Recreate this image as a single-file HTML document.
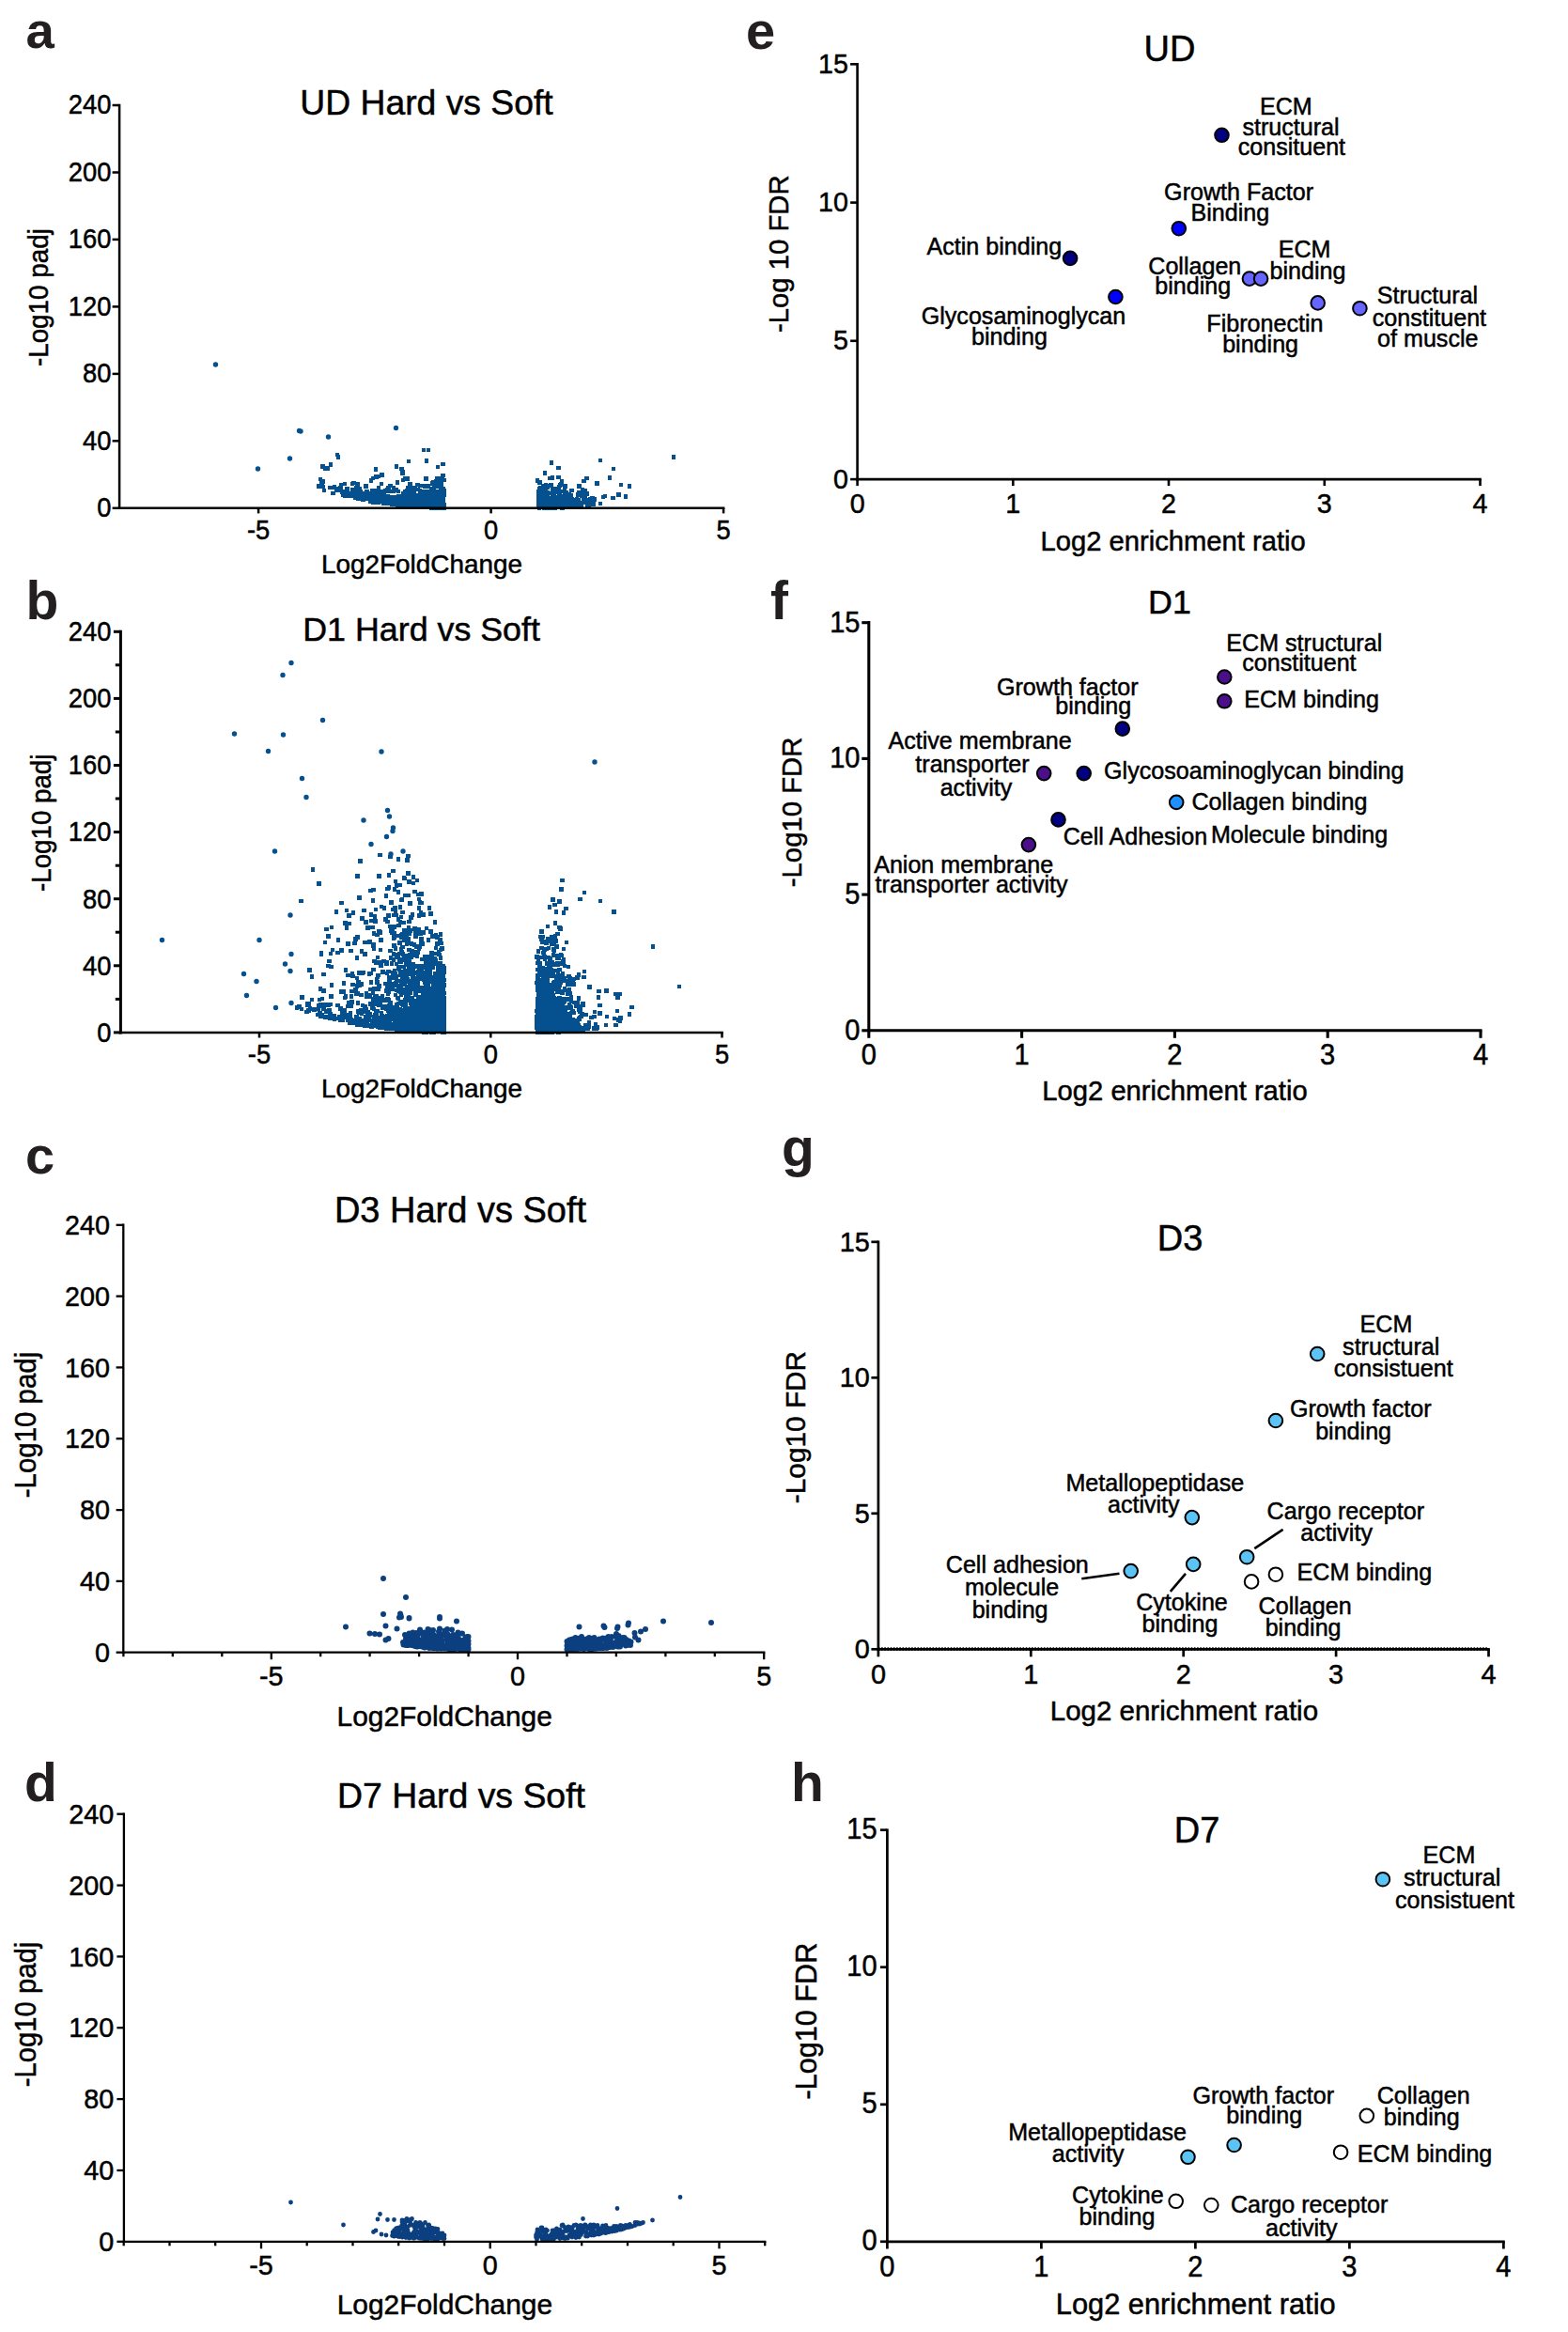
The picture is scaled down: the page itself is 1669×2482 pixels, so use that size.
<!DOCTYPE html>
<html lang="en"><head><meta charset="utf-8"><title>Figure</title>
<style>html,body{margin:0;padding:0;background:#fff}svg{display:block}text{font-family:'Liberation Sans', sans-serif}</style>
</head><body>
<svg width="1669" height="2482" viewBox="0 0 1669 2482">
<rect width="1669" height="2482" fill="#fff"/>
<g>
<path fill="none" stroke="#05508f" stroke-width="4.1" stroke-linecap="square" shape-rendering="crispEdges" d="M433.5 533h0M461.5 526.5h0M459.5 540.5h0M469 535h0M406.5 505.5h0M454.5 536h0M452.5 533h0M472 538h0M444.5 538.5h0M434.5 531h0M464.5 524h0M411 533h0M465.5 528.5h0M444 538.5h0M439 535h0M456 540h0M447.5 539.5h0M375 521h0M431.5 529h0M439.5 539h0M367.5 528h0M397.5 531h0M430 533.5h0M461 536h0M420 537h0M467 540h0M464.5 539.5h0M381 530.5h0M402.5 535h0M461 533h0M406 531h0M471.5 540.5h0M423 537.5h0M428.5 536.5h0M471 534h0M432 537h0M452 531h0M450.5 533.5h0M430 535.5h0M463 537.5h0M435 538h0M419.5 533h0M443 536h0M390 523.5h0M467.5 538h0M460.5 539.5h0M472 520h0M450 534.5h0M440.5 537h0M395 525.5h0M447 537h0M465 540h0M473 537.5h0M463 535h0M454 537.5h0M427 530h0M463 539.5h0M443.5 536h0M461.5 540h0M378.5 530h0M466.5 540.5h0M445 536.5h0M433 535h0M422 534h0M398 533.5h0M449.5 535.5h0M454 538h0M448 524h0M389 531h0M453 527h0M425.5 530.5h0M470.5 530.5h0M385 526.5h0M463.5 540.5h0M420.5 536.5h0M461.5 523.5h0M469 526h0M451 523.5h0M413.5 534h0M459 537.5h0M399.5 534.5h0M450 531.5h0M467 534.5h0M383 530.5h0M449 538h0M437.5 528h0M440.5 534h0M459.5 531.5h0M468.5 538.5h0M460 540h0M464.5 534.5h0M460 528h0M368.5 524h0M450.5 538.5h0M385.5 528h0M470.5 509.5h0M452 536.5h0M445 532.5h0M374.5 527.5h0M400.5 507.5h0M424 523h0M427 528h0M435.5 537h0M468.5 532h0M400 524h0M470 537.5h0M431 536.5h0M439 536.5h0M458 536h0M408.5 532.5h0M387.5 525h0M433 522.5h0M447 533h0M428 530.5h0M379 525.5h0M439.5 532.5h0M469 520.5h0M398.5 529.5h0M414 532h0M386.5 532h0M463 527h0M456.5 539h0M409.5 531.5h0M399.5 533.5h0M456.5 540h0M400.5 535h0M458 534h0M436 538h0M457.5 532.5h0M406 526h0M455 538h0M441 539h0M449 533h0M380.5 529.5h0M428 528h0M434.5 534h0M380 526h0M425.5 537h0M454.5 528.5h0M382.5 520.5h0M455 534h0M398.5 522h0M469 519.5h0M427 535.5h0M464 533h0M410 534h0M390.5 530h0M448.5 536.5h0M439 529.5h0M472 530.5h0M466.5 530.5h0M471 529h0M421.5 534h0M382.5 525h0M450.5 517h0M403.5 527h0M472.5 526.5h0M434 509.5h0M440 531.5h0M471 536h0M470 516h0M421.5 531.5h0M409.5 530h0M473 540.5h0M349 498.5h0M403.5 531h0M378.5 523h0M464 512h0M463 531h0M469 540h0M438 533h0M427.5 536.5h0M452.5 535h0M417.5 537h0M390 527h0M373 526h0M450.5 540h0M414 523h0M414.5 529h0M426 530h0M468 513.5h0M406.5 530h0M428.5 528h0M397 534.5h0M365 527h0M468.5 533.5h0M473 538.5h0M462 518.5h0M422 533.5h0M459 534h0M470.5 534.5h0M463 525h0M414.5 536h0M432 539h0M417.5 529.5h0M421.5 529.5h0M396.5 522.5h0M362.5 521.5h0M436.5 539h0M380.5 515.5h0M453.5 523h0M384 523.5h0M442 519h0M462.5 524h0M454.5 530.5h0M413 535.5h0M406.5 523h0M417 534h0M440.5 533h0M404 532h0M435 535h0M453.5 538h0M439.5 527.5h0M399.5 531h0M406.5 533h0M440.5 523.5h0M453.5 540h0M370 527h0M418.5 534.5h0M458.5 523h0M403 533.5h0M394.5 531h0M452.5 518h0M412.5 528.5h0M458 527.5h0M472 534h0M356 518.5h0M454.5 527h0M387.5 530h0M464.5 532.5h0M394.5 534h0M404 533.5h0M458.5 527.5h0M446.5 530h0M428.5 530h0M407.5 525.5h0M373.5 525.5h0M364.5 523.5h0M455 525h0M396.5 529.5h0M445 521h0M448 532h0M428 533h0M435.5 526.5h0M442 530h0M468 530h0M463.5 528h0M445 535h0M358 520.5h0M457 531h0M431 538.5h0M417.5 531h0M400.5 532h0M471.5 506h0M386 532h0M354.5 525h0M351.5 519h0M447 517h0M429 511h0M384 529h0M464.5 536.5h0M424.5 528h0M339 517.5h0M396.5 527h0M466 497h0M421.5 521.5h0M430.5 534.5h0M415 534h0M436 535h0M369.5 520.5h0M406 515h0M411 530.5h0M423 513.5h0M403 519.5h0M403 522h0M447 522.5h0M418.5 523h0M432.5 531h0M375 515h0M460.5 536.5h0M453.5 517.5h0M367 515h0M426.5 538.5h0M409 527h0M447.5 527.5h0M342.5 514.5h0M431 523.5h0M436.5 515h0M445 532h0M394 527.5h0M466 523.5h0M454 490.5h0M388 527h0M470 523.5h0M473 522h0M425 534h0M399 526.5h0M375 528h0M385 525.5h0M403 529h0M408 536h0M460 526h0M413.5 519.5h0M390.5 523.5h0M376.5 514h0M405 529h0M345 522h0M461.5 528.5h0M465.5 517.5h0M472.5 525h0M358 522h0M431 533.5h0M362.5 519h0M344 512.5h0M352 494.5h0M377.5 521.5h0M370 527.5h0M436.5 521h0M435 491h0M395 511.5h0M376.5 524h0M434.5 519h0M403 507h0M415.5 517h0M363 516h0M444.5 516h0M428.5 502.5h0M439.5 519.5h0M460 514.5h0M471.5 494h0M341 510h0M421 533.5h0M462 521.5h0M455.5 517.5h0M412.5 521h0M427.5 499h0M422 496.5h0M410 522.5h0M359 484h0M444 527.5h0M409 535.5h0M360 486.5h0M397 509h0M393 531h0M343.5 496.5h0M379.5 519.5h0M343.5 518h0M400.5 527h0M436 525.5h0M417.5 523h0M431.5 509.5h0M402 525.5h0M346 498.5h0M414.5 530h0M389.5 517.5h0M400 499.5h0M429 525.5h0M473 511h0M453.5 509.5h0M465.5 509h0M465 515.5h0M419 519h0M456 479h0M380.5 523h0M431.5 526h0M428.5 504h0M422 531h0M450.5 527.5h0M459 520.5h0M461 513.5h0M408.5 524h0M451 479h0M469.5 512h0M582.5 538h0M582 528h0M594 520.5h0M586.5 531h0M575.5 540h0M573 537.5h0M604 536.5h0M588 540.5h0M573 540h0M587 536h0M584 539h0M606 536h0M595.5 539h0M588 536.5h0M620 521h0M574 540.5h0M592 534.5h0M581 536h0M578 530h0M583.5 535.5h0M584 540.5h0M598 532h0M575 536.5h0M577.5 540h0M600.5 533.5h0M597.5 536.5h0M606.5 539h0M575 536h0M613 537h0M577 536.5h0M623.5 535h0M591 523.5h0M596 529h0M582.5 526.5h0M573 526h0M590.5 533h0M594.5 529.5h0M602 539h0M622.5 522h0M589 524h0M577 539h0M601.5 535h0M584.5 537.5h0M623 525h0M587.5 538.5h0M593 534h0M595.5 524.5h0M573 535.5h0M577.5 535.5h0M580.5 537h0M579 539.5h0M589.5 528h0M626.5 537.5h0M589 540.5h0M577.5 530.5h0M580 539.5h0M610.5 535h0M572 511.5h0M608.5 522h0M581 540.5h0M605.5 539h0M589.5 540h0M595 531.5h0M596.5 538.5h0M582 537.5h0M609 531.5h0M608 532.5h0M611 533h0M600.5 538h0M623 530.5h0M599.5 523h0M593.5 531h0M590.5 539h0M574 529h0M614.5 536h0M611.5 537.5h0M589 535h0M579 535.5h0M592.5 537h0M619.5 528h0M574 533.5h0M596.5 533.5h0M601 521h0M578.5 525.5h0M625 535h0M585 540.5h0M587 537.5h0M581.5 533.5h0M586.5 516h0M615.5 526.5h0M573.5 531h0M631.5 535.5h0M612.5 539.5h0M587.5 533h0M631.5 537h0M602 540h0M598.5 531h0M575.5 532.5h0M590 537.5h0M575 527h0M582.5 524.5h0M575.5 530.5h0M615 536.5h0M598.5 536.5h0M573 540h0M603 532.5h0M579.5 540.5h0M589.5 531h0M615.5 532h0M594.5 522.5h0M584.5 535h0M594.5 498h0M631.5 532h0M606 533h0M588 508.5h0M578.5 531.5h0M581 529.5h0M575 528.5h0M625 537.5h0M609 538h0M598 512h0M574.5 520.5h0M588.5 528.5h0M630.5 530h0M605 528.5h0M579 536.5h0M609.5 535h0M616 538.5h0M617 538.5h0M590.5 540.5h0M622.5 527.5h0M602.5 536.5h0M597.5 515.5h0M595 518h0M585 531.5h0M618.5 525h0M599.5 536h0M598.5 540.5h0M582 527h0M607.5 527h0M584.5 517h0M575.5 525.5h0M603 538.5h0M593 540h0M616.5 536h0M589 533.5h0M590 530.5h0M573.5 527.5h0M576.5 533h0M611.5 532h0M594.5 537h0M614 531.5h0M578 517h0M629 533h0M600.5 530h0M581 525h0M619 537.5h0M579.5 527.5h0M580 533h0M574.5 513.5h0M592.5 539.5h0M621 523.5h0M621.5 512h0M584 530.5h0M616.5 524h0M624.5 532.5h0M606 526.5h0M585.5 525h0M600.5 528.5h0M588.5 520.5h0M596 516.5h0M607 536.5h0M573.5 523.5h0M625 525.5h0M626 538.5h0M581.5 531.5h0M576 526h0M580.5 519.5h0M621.5 531h0M577.5 522.5h0M628.5 531.5h0M581 516.5h0M642 529h0M601.5 517.5h0M644 528h0M582.5 518.5h0M632.5 531.5h0M639 536h0M624.5 509h0M575 519.5h0M621.5 533.5h0M619 535h0M592 520h0M585.5 509h0M574.5 522.5h0M601 523.5h0M616.5 517.5h0M580 503.5h0M597 535h0M577.5 519.5h0M610 538.5h0M579 518.5h0M594.5 508h0M602.5 524h0M652.5 530h0M595 536h0M635.5 514.5h0M612 534.5h0M717 486.5h0M639 490h0M587 492.5h0M653 499h0M670 517.5h0M661 516h0M649 508.5h0M666 528.5h0M658.5 526.5h0"/>
<path fill="none" stroke="#05508f" stroke-width="5.4" stroke-linecap="round" d="M229.5 388h0M318.5 458.5h0M320 459h0M349.5 465h0M421.5 455.5h0M308.5 488h0M274.5 499h0"/>
<line x1="127.1" y1="110.8" x2="127.1" y2="542" stroke="#000" stroke-width="2.5"/>
<line x1="125.8" y1="540.8" x2="771.4" y2="540.8" stroke="#000" stroke-width="2.5"/>
<line x1="119.6" y1="540.8" x2="127.1" y2="540.8" stroke="#000" stroke-width="2.5"/>
<text font-size="28.8" text-anchor="end" stroke="#000" stroke-width="0.5" transform="translate(118.4 550) scale(0.95 1)">0</text>
<line x1="119.6" y1="469.3" x2="127.1" y2="469.3" stroke="#000" stroke-width="2.5"/>
<text font-size="28.8" text-anchor="end" stroke="#000" stroke-width="0.5" transform="translate(118.4 478.5) scale(0.95 1)">40</text>
<line x1="119.6" y1="397.9" x2="127.1" y2="397.9" stroke="#000" stroke-width="2.5"/>
<text font-size="28.8" text-anchor="end" stroke="#000" stroke-width="0.5" transform="translate(118.4 407.1) scale(0.95 1)">80</text>
<line x1="119.6" y1="326.4" x2="127.1" y2="326.4" stroke="#000" stroke-width="2.5"/>
<text font-size="28.8" text-anchor="end" stroke="#000" stroke-width="0.5" transform="translate(118.4 335.6) scale(0.95 1)">120</text>
<line x1="119.6" y1="254.9" x2="127.1" y2="254.9" stroke="#000" stroke-width="2.5"/>
<text font-size="28.8" text-anchor="end" stroke="#000" stroke-width="0.5" transform="translate(118.4 264.1) scale(0.95 1)">160</text>
<line x1="119.6" y1="183.5" x2="127.1" y2="183.5" stroke="#000" stroke-width="2.5"/>
<text font-size="28.8" text-anchor="end" stroke="#000" stroke-width="0.5" transform="translate(118.4 192.7) scale(0.95 1)">200</text>
<line x1="119.6" y1="112" x2="127.1" y2="112" stroke="#000" stroke-width="2.5"/>
<text font-size="28.8" text-anchor="end" stroke="#000" stroke-width="0.5" transform="translate(118.4 121.2) scale(0.95 1)">240</text>
<line x1="275.1" y1="540.8" x2="275.1" y2="546.4" stroke="#000" stroke-width="2.5"/>
<text font-size="28.8" text-anchor="middle" stroke="#000" stroke-width="0.5" transform="translate(275.1 573.6) scale(0.95 1)">-5</text>
<line x1="522.6" y1="540.8" x2="522.6" y2="546.4" stroke="#000" stroke-width="2.5"/>
<text font-size="28.8" text-anchor="middle" stroke="#000" stroke-width="0.5" transform="translate(522.6 573.6) scale(0.95 1)">0</text>
<line x1="770.1" y1="540.8" x2="770.1" y2="546.4" stroke="#000" stroke-width="2.5"/>
<text font-size="28.8" text-anchor="middle" stroke="#000" stroke-width="0.5" transform="translate(770.1 573.6) scale(0.95 1)">5</text>
<text x="454" y="121.5" font-size="37.3" text-anchor="middle" stroke="#000" stroke-width="0.5">UD Hard vs Soft</text>
<text x="449" y="609.6" font-size="27.9" text-anchor="middle" stroke="#000" stroke-width="0.5">Log2FoldChange</text>
<text font-size="28.7" text-anchor="middle" stroke="#000" stroke-width="0.5" transform="translate(51 316.6) rotate(-90) scale(0.97 1)">-Log10 padj</text>
<text x="27.5" y="51" font-size="54.5" font-weight="bold" fill="#231f20">a</text>
</g>
<g>
<path fill="none" stroke="#05508f" stroke-width="4.1" stroke-linecap="square" shape-rendering="crispEdges" d="M470.5 1009.5h0M468.5 1090h0M463 1058.5h0M459 1090.5h0M449 1084h0M446.5 1077h0M468 1095h0M469.5 1078h0M463 1090.5h0M461.5 1095.5h0M436.5 1093.5h0M466 1044.5h0M455 1093.5h0M452 1071.5h0M464.5 1093.5h0M418 1072h0M440.5 1089h0M417.5 1080.5h0M471.5 1097.5h0M470 1085h0M471.5 1098.5h0M437 1064h0M443 1093.5h0M457.5 1098h0M451.5 1086.5h0M454 1090h0M450.5 1093.5h0M462 1064.5h0M463 1084h0M469 1097.5h0M465.5 1070.5h0M445.5 1090h0M456.5 1096.5h0M435.5 1093h0M459 1074h0M465.5 1088h0M452 1081h0M403.5 1049.5h0M454.5 1080h0M452.5 1079h0M467 1084.5h0M461.5 1087h0M434 1097.5h0M464 1092.5h0M471 1083h0M449.5 1094h0M468 1086.5h0M468 1065h0M457 1094h0M455.5 1091.5h0M420.5 1078.5h0M465.5 1098h0M438.5 1093.5h0M466 1094h0M443 1079h0M467.5 1090h0M466.5 1079.5h0M471 1090.5h0M457.5 1082h0M461 1076h0M472 1089h0M444.5 1073h0M465 1087h0M415.5 1090.5h0M448 1075.5h0M460.5 1073h0M449.5 1087.5h0M370.5 1038h0M427 1092.5h0M461.5 1093h0M458.5 1094.5h0M427 1066.5h0M424.5 1050.5h0M471.5 1054h0M470.5 1088h0M465.5 1075h0M418 1075.5h0M472.5 1091h0M464 1081.5h0M473 1087.5h0M460.5 1092h0M415.5 1067.5h0M460.5 1077.5h0M465 1098h0M471.5 1094h0M450.5 1091h0M458.5 1089h0M473 1093h0M456 1095.5h0M457 1086h0M453 1093.5h0M442 1096h0M416 1092.5h0M460.5 1097.5h0M466.5 1089.5h0M472.5 1096.5h0M470.5 1078h0M367.5 1080.5h0M463.5 1069.5h0M445.5 1080.5h0M451.5 1075h0M453 1086.5h0M446 1090.5h0M418.5 1074.5h0M472.5 1084h0M467.5 1016h0M468 1064.5h0M464 1066h0M446.5 1093h0M468 1081h0M455 1086.5h0M446.5 1088h0M452.5 1040h0M384 1075.5h0M466 1066.5h0M435.5 1035h0M432 1097h0M445.5 1095.5h0M453 1094h0M473 1095.5h0M451.5 1095.5h0M464 1088.5h0M445.5 1070.5h0M462.5 1055.5h0M440 1087h0M428.5 1087.5h0M467.5 1070h0M440.5 1065.5h0M452.5 1098h0M451 1084h0M436 1083h0M430.5 1078h0M467 1096h0M464.5 1061h0M456.5 1084.5h0M404 1063h0M430.5 1056.5h0M464.5 1083h0M435.5 1075h0M419.5 1081.5h0M469 1088h0M468 1098h0M456 1098h0M400 1088.5h0M445 1093.5h0M452.5 1077.5h0M460 1079h0M463.5 1088h0M470.5 1068h0M460 1087.5h0M446.5 1054h0M473 1048.5h0M415 1086h0M427 1010.5h0M470.5 1095h0M417.5 1092.5h0M441 1078.5h0M440 1081h0M462 1096.5h0M469.5 1082h0M433 995.5h0M436.5 1097h0M456 1051.5h0M429 1090.5h0M459 1079.5h0M472 1065h0M459.5 1097.5h0M405 1069h0M468.5 1063.5h0M466 1081h0M455 1063.5h0M472.5 1071.5h0M467 1098h0M468 1056.5h0M469.5 1073.5h0M429.5 1053h0M461 1057.5h0M436.5 1055.5h0M444 1048.5h0M412.5 1093.5h0M439.5 1086.5h0M454.5 1074.5h0M455 1089.5h0M449 1098h0M469 1085h0M466 1085.5h0M433 1076.5h0M448 1063.5h0M439 1062h0M467.5 1087.5h0M472.5 1074.5h0M463.5 1096h0M449 1063.5h0M432 1083h0M465 1094.5h0M471.5 1088.5h0M459 1060.5h0M447 1097h0M469.5 1092.5h0M447.5 1082.5h0M460 1059h0M464.5 1077h0M413 1076h0M462.5 1053.5h0M457 1063.5h0M436.5 1081h0M468.5 1075.5h0M441 1097h0M462 1089h0M456.5 1092.5h0M463 1078h0M429 1070h0M413 1084.5h0M461 1029.5h0M430.5 1083.5h0M458 1083h0M449 1083h0M451 1068h0M468.5 1069.5h0M424.5 1055h0M461.5 1081.5h0M472 1072.5h0M426 1079h0M470 1076h0M380 1049.5h0M468.5 1000h0M437.5 1052.5h0M461 1085.5h0M455 1047.5h0M425.5 1095.5h0M435.5 1076.5h0M454 1098.5h0M440 1084h0M438.5 1029h0M444.5 1084.5h0M442 1092h0M429.5 1096.5h0M458.5 1062.5h0M453 1047.5h0M466.5 1083h0M454 1072h0M434.5 1095h0M420.5 1091.5h0M437.5 1086.5h0M454 1069.5h0M460 1070.5h0M451.5 1097.5h0M430.5 1085.5h0M463 1075h0M459 1080.5h0M471 1056h0M459 1070.5h0M467.5 1049h0M436 1091h0M471.5 1033.5h0M473 1078.5h0M442 1066h0M468 1081h0M457.5 1068h0M465.5 1090h0M418.5 1084.5h0M472.5 1098.5h0M453 1068.5h0M431 1048h0M432 1097h0M471 1079h0M442 1083.5h0M467 1074.5h0M472.5 1083.5h0M471 1052.5h0M444.5 1086h0M400 1064.5h0M459.5 1092.5h0M409.5 1090.5h0M443 1094.5h0M450 1072h0M441 1094h0M414 1083.5h0M445 1062.5h0M402 1092h0M472 1053h0M437 1084.5h0M457.5 1057h0M459.5 1085.5h0M439 1091h0M432.5 1090.5h0M463.5 1072h0M446 1080h0M431 1086.5h0M402.5 1093h0M449 1090.5h0M452.5 1085h0M469.5 1066.5h0M470.5 1051h0M460 1065h0M428.5 1067h0M458 1067.5h0M470.5 1068h0M410 1064.5h0M452.5 1051h0M425.5 1074h0M406 1087h0M412.5 1063h0M431.5 1090.5h0M453 1067.5h0M458.5 1072h0M424 1077h0M456 1024h0M441 1051h0M410 1089.5h0M454 1082h0M460.5 1067.5h0M472 1081h0M427 1089h0M449.5 1088.5h0M422 1096h0M469.5 1004h0M430.5 1081h0M407 1094h0M457 1078h0M390 1074h0M423 1090h0M442 1086.5h0M421 1080h0M466 1054h0M462.5 1063h0M442.5 1084.5h0M463 1042.5h0M410 1086h0M419 1093.5h0M454 1071h0M447.5 1094.5h0M459 1098.5h0M449.5 1079.5h0M452.5 1074h0M394 1091h0M421 1085.5h0M457.5 1036.5h0M440 1085.5h0M427.5 1078h0M424 1091.5h0M451 1088h0M464 1067h0M462.5 1015h0M441 1068h0M452.5 1083h0M458 1040.5h0M457 1092h0M454.5 1077.5h0M451.5 1070.5h0M466.5 1073h0M456.5 1080h0M462 1098.5h0M469 1045.5h0M470 1050h0M444.5 1047h0M465 1069.5h0M471 1041.5h0M472.5 1057h0M463 1020.5h0M438.5 1097.5h0M432 1088h0M442.5 1058.5h0M467 1066.5h0M450.5 1070h0M463.5 1022.5h0M435.5 1086h0M467 1070.5h0M440.5 1082.5h0M460 1054h0M462.5 1041h0M464 1079.5h0M440 1088.5h0M471 1071.5h0M430 1079h0M470 1038.5h0M383 1084.5h0M439.5 1049.5h0M462.5 1084.5h0M443.5 1089.5h0M430.5 1088.5h0M453 1091h0M434.5 1073.5h0M465.5 1053h0M446 1083.5h0M455.5 1066.5h0M468.5 1059h0M467.5 1077h0M458 1072.5h0M462 1073.5h0M462.5 1056h0M448 1081.5h0M448.5 1068.5h0M455 1085.5h0M433 1084h0M443 1081h0M467 1097.5h0M419 1015h0M440 1032.5h0M449.5 1078h0M464 1061h0M450.5 1077h0M453.5 1061h0M384 1088.5h0M461 1098.5h0M450 1071.5h0M443.5 1090h0M440.5 1091.5h0M440 1074.5h0M446.5 1073.5h0M429.5 1077h0M414 1070h0M404.5 1091.5h0M445.5 1054.5h0M422.5 1077h0M425.5 1089.5h0M421.5 1075.5h0M446 1069h0M452 1082h0M332 1064h0M453 1098.5h0M457 1034h0M408.5 1083.5h0M435.5 1089h0M471 1050h0M467.5 1035.5h0M451.5 1061.5h0M401.5 1076h0M449 1093.5h0M437 1079.5h0M465 1044h0M443 1052h0M456 1057.5h0M425.5 1087h0M413.5 1094.5h0M421 1059h0M440 1096h0M428 1086h0M407 1060h0M450.5 1066h0M429 1094.5h0M434.5 1079.5h0M423.5 1076h0M447 1090h0M458.5 1055h0M399 1066h0M444.5 1097.5h0M456.5 1056h0M397 1069h0M424 1063h0M414.5 1044.5h0M411 1054.5h0M458.5 1076h0M341.5 1082h0M406.5 1083.5h0M453 1057h0M468.5 1071.5h0M428 1085.5h0M464 1050.5h0M400.5 1060h0M432 1075.5h0M457.5 1058.5h0M433 1054.5h0M422 1074h0M462 1082.5h0M398.5 1083h0M449.5 1039h0M457 1044h0M426 1066.5h0M431 1092.5h0M433.5 1094.5h0M449.5 1072h0M433.5 1081.5h0M437 1089h0M399 1080.5h0M427.5 1095.5h0M443 1068h0M409 1082h0M406 1078h0M438 1074h0M409.5 1071h0M457.5 1075.5h0M473 1030h0M420 1041h0M388.5 1015.5h0M424.5 1068h0M472.5 1034.5h0M465 1079h0M351.5 1084h0M449 1098h0M460 1016.5h0M458.5 1069h0M453.5 1035h0M414 1077h0M469.5 1052.5h0M472 1044.5h0M439 1065h0M386 1086h0M411.5 1024h0M456 1052.5h0M471.5 1039h0M374.5 1055h0M380 1086h0M459.5 1083h0M432.5 1094h0M447 1067.5h0M441 1048.5h0M470 1077h0M467.5 1046.5h0M452 1065h0M412 1081.5h0M422 1091.5h0M429.5 1089.5h0M471 1031h0M429 1094h0M420 1089h0M414 1086.5h0M446.5 1098h0M451.5 1056h0M442.5 1070.5h0M422.5 1069.5h0M421 1090h0M387 1076.5h0M460 1019h0M457 1064.5h0M436.5 1094h0M430.5 1094.5h0M405.5 1083.5h0M432 1060h0M446.5 1029.5h0M431 1064h0M441.5 1072h0M444 1065h0M431.5 1071h0M427 1058.5h0M425.5 1093.5h0M470 1062.5h0M473 1062.5h0M457 1062h0M388.5 1092h0M400 1076h0M363.5 1011.5h0M454.5 1072.5h0M438.5 1072.5h0M441 1041h0M379.5 1087h0M403.5 1089h0M435 1057.5h0M398 1009.5h0M422.5 1079h0M366.5 1076.5h0M472.5 1076h0M457 1068h0M444 1077h0M437.5 1052h0M384.5 1059h0M423.5 1083h0M420 1076h0M409.5 1073h0M433.5 1086.5h0M458.5 1066h0M428.5 1069h0M473 1074h0M412 1090h0M440.5 1070.5h0M455.5 1083.5h0M415 1081h0M450 1061.5h0M466 1073.5h0M423.5 1062h0M429.5 1029h0M434.5 1044h0M454 1058h0M393 1085h0M393.5 1061h0M429 1081h0M436 1016h0M448.5 1034.5h0M411.5 1095h0M432 1072.5h0M445 1075h0M435 1033h0M431 1054h0M471 1048h0M413 1057.5h0M457.5 1089h0M465 1049.5h0M414.5 1047h0M461.5 1047.5h0M419 1084h0M439.5 1067h0M402.5 1091.5h0M421.5 1094.5h0M426 1044h0M469.5 1037h0M427 1091.5h0M416.5 1095h0M437 1057h0M457 1071.5h0M461.5 1051h0M456 1038.5h0M401 1079.5h0M436 1085h0M432 1068h0M446.5 1062h0M467.5 1059.5h0M374.5 1066.5h0M434.5 1080.5h0M456 1041.5h0M448 1075h0M469 1046h0M416.5 1090h0M384 1091h0M463.5 1039h0M451.5 1042.5h0M407.5 1073h0M374 1060.5h0M434 1033.5h0M460 1053.5h0M339.5 1070.5h0M450 1081.5h0M449.5 1028h0M456 1048h0M452.5 1053h0M388.5 1071.5h0M466.5 1062h0M398 1091h0M450.5 1058.5h0M395.5 1092.5h0M437.5 1036.5h0M403 1066h0M425 1085.5h0M471.5 1045.5h0M429.5 1035.5h0M469 994.5h0M426 1086.5h0M419.5 993.5h0M397 1090.5h0M453 1062h0M446.5 1084.5h0M468.5 1027h0M459 1058.5h0M410 1082h0M468 1040.5h0M382.5 1077.5h0M443 1052h0M465.5 997.5h0M405.5 1028h0M427 1080.5h0M451.5 1080h0M442 1046h0M466 1033.5h0M417 1084h0M466 1025.5h0M461 1069.5h0M393.5 1080.5h0M415 1094h0M453.5 1025h0M400.5 1069h0M433 1060h0M390 1085h0M469 1048.5h0M436.5 1091.5h0M445 1045.5h0M451 1062.5h0M359.5 1084h0M415.5 1073.5h0M448 1066.5h0M467.5 1055.5h0M455.5 1061.5h0M469 1011h0M400.5 1083.5h0M438 1072h0M471 1058.5h0M435 1062h0M442.5 1055.5h0M423 1094h0M394 1079.5h0M370.5 1004.5h0M472.5 1067.5h0M436.5 1076.5h0M451 1081.5h0M419.5 1073.5h0M411.5 1088h0M437 1068h0M459.5 1025h0M472 1080.5h0M472 1069h0M468 1053.5h0M424 1087h0M420 1086h0M467.5 1064h0M431.5 1067h0M468 1041h0M472 1060.5h0M414.5 1049.5h0M469 1019.5h0M446.5 1088.5h0M439 1076h0M439.5 1082h0M426.5 1083h0M365.5 1055.5h0M418 1051h0M426 1055.5h0M441.5 1077.5h0M422.5 1019h0M472.5 1043h0M446 966.5h0M449.5 1021h0M466.5 1029.5h0M350.5 1023h0M446 957h0M432 1079h0M438.5 1074h0M464 1009h0M448.5 1054h0M465.5 1004.5h0M468 1043h0M471.5 1028.5h0M368.5 1080.5h0M340 1064h0M444 1017.5h0M387.5 1088.5h0M467 1013.5h0M414 1089.5h0M344.5 1073.5h0M438.5 1062.5h0M444.5 1068h0M386.5 1075h0M458.5 991.5h0M414.5 1052h0M468 1038.5h0M459 1027h0M463.5 1036.5h0M429 1075.5h0M349.5 1069.5h0M437.5 1026.5h0M425.5 1049.5h0M435.5 1011h0M375 1036h0M454.5 1054h0M414 1064.5h0M398 1082h0M432 1059h0M458.5 1040.5h0M457 966.5h0M433.5 1050.5h0M421.5 1082.5h0M457 1052h0M405.5 1064.5h0M438.5 1046h0M433.5 1042.5h0M455 1035h0M396.5 1087h0M426 1077h0M465.5 1042h0M351.5 1084h0M429.5 1045h0M406.5 1081h0M433 1041h0M367 1075h0M464 995.5h0M389 1082h0M388.5 1003h0M468.5 1031h0M376.5 1086.5h0M407 1091h0M380 1041h0M445 1070h0M398 1065h0M460.5 1063h0M414.5 1083h0M430.5 990.5h0M420.5 1016h0M452.5 1055.5h0M467.5 1051h0M428 1037h0M452 1036h0M447 1007.5h0M469 1025h0M456.5 1022.5h0M347 1076.5h0M432.5 997h0M460.5 996.5h0M458.5 1023h0M424.5 1080h0M465.5 1059h0M432.5 1074.5h0M415.5 986h0M390.5 1060.5h0M334.5 1074.5h0M446 1061.5h0M439.5 1017h0M381.5 1045.5h0M433.5 1065h0M453.5 1019h0M402 1039.5h0M406.5 1088.5h0M439 1071.5h0M459.5 1014h0M390 1090.5h0M414 1056h0M457 1038h0M416.5 1077.5h0M400 1079h0M411 1073.5h0M404.5 1066.5h0M424 1083.5h0M451 1030h0M378.5 1053h0M422 1046.5h0M390 1057h0M433 1005h0M458.5 1044.5h0M440 1030h0M373.5 1012h0M422 1054h0M456 1029h0M389.5 1083h0M397.5 1032h0M422 1077.5h0M457 1026h0M368 1060.5h0M448.5 961h0M461 1030h0M454 988h0M419.5 1094h0M450 1051h0M445.5 989h0M465 1057.5h0M445.5 1034.5h0M444 991h0M456.5 1019.5h0M444 1028.5h0M435.5 938.5h0M405.5 1024.5h0M455 1029h0M397 1063.5h0M353 987h0M395.5 980h0M366 1046.5h0M368 1032.5h0M367.5 1083h0M372 983h0M403 1069.5h0M344.5 1054.5h0M373 1078h0M381 1057.5h0M341 1052.5h0M370.5 1071h0M341.5 1069h0M341.5 1071h0M371.5 974.5h0M391.5 1077.5h0M395 1086h0M403 1062.5h0M328.5 1075.5h0M384.5 1047.5h0M359.5 1070h0M340.5 1078h0M405 1093.5h0M329.5 1032.5h0M352 1015h0M367 1062h0M399.5 1060h0M397 1056.5h0M373.5 1085h0M373.5 1070.5h0M358.5 1084h0M349.5 996.5h0M363 1055.5h0M410.5 978.5h0M342 1014.5h0M395 973.5h0M349.5 1028h0M338 1080h0M350.5 1075h0M352.5 1029h0M346 1003h0M378.5 999.5h0M394 1059h0M385 1078.5h0M367.5 982.5h0M371.5 1067.5h0M387 1091h0M400.5 1080.5h0M386.5 1035h0M350.5 1076h0M344.5 1037h0M396.5 987h0M406 965h0M391.5 987.5h0M393 1036.5h0M394 1068.5h0M343 1063h0M354 1011h0M399 975.5h0M327.5 1068h0M372.5 1080.5h0M396.5 1072.5h0M380 1019.5h0M379 1088.5h0M411 953.5h0M342 1016h0M403 1088h0M353 1048.5h0M381 1067.5h0M359.5 1014h0M398 1074h0M351.5 1069h0M379.5 1057.5h0M364.5 1078.5h0M321.5 1061.5h0M360 1000.5h0M382 1035.5h0M375.5 1048h0M427 1029h0M364.5 1086h0M352.5 1060.5h0M400.5 1024.5h0M398 1005.5h0M445 1041h0M389.5 981.5h0M386 1070h0M394.5 1053h0M332 1039.5h0M344.5 1069.5h0M413 1074h0M369 969h0M393.5 1092h0M451.5 1098.5h0M397 1089h0M361.5 1082.5h0M372 1088.5h0M423 1095h0M326.5 1077h0M339 1073.5h0M409 1092h0M362.5 1073.5h0M355.5 1081h0M376 1088.5h0M373 1088.5h0M330 1073.5h0M343 1080h0M365.5 1081.5h0M420 1092h0M398.5 1092h0M390.5 1088h0M328.5 1068.5h0M402 1084h0M377.5 1088.5h0M420.5 1092.5h0M346.5 1082.5h0M316 1072.5h0M370.5 1085.5h0M362 1086h0M381.5 1076.5h0M327 1069.5h0M404.5 1094h0M352.5 1084h0M399 1085.5h0M425.5 1096.5h0M321 1074h0M318.5 1071.5h0M356 1084.5h0M379.5 1082h0M351.5 1079.5h0M380.5 1090.5h0M419 1035.5h0M412 1036h0M434 1050.5h0M456 1000.5h0M426.5 1024h0M419.5 974h0M416.5 990.5h0M441.5 988.5h0M394.5 948h0M419.5 1006.5h0M397 1005h0M454.5 1033.5h0M380.5 997.5h0M423.5 1018h0M430 1039h0M464.5 1026h0M419 1047.5h0M447.5 993.5h0M415.5 1012h0M422 1044.5h0M412.5 946h0M437 1046.5h0M428.5 971h0M448.5 951.5h0M455.5 1018.5h0M385.5 1035.5h0M431 993.5h0M435.5 993.5h0M419 1021.5h0M422.5 1049h0M446 1028h0M425.5 1003.5h0M427 1035.5h0M439 1034.5h0M435.5 1045h0M426 1034.5h0M430.5 935h0M420.5 966.5h0M412 1051.5h0M405 1011h0M438.5 1012.5h0M424.5 996h0M425 1015h0M443.5 1007.5h0M433 1022h0M432 990.5h0M418.5 927h0M440 940h0M466 1036h0M438 1035.5h0M435.5 1052.5h0M435 1031.5h0M412.5 981h0M450.5 992.5h0M420 1033.5h0M453.5 1022h0M434.5 911h0M431.5 1038h0M417.5 1040.5h0M441.5 949h0M377.5 1004h0M435 953h0M426.5 1038h0M425 1054h0M430 934h0M441 1042.5h0M437.5 976.5h0M434.5 999.5h0M404.5 992.5h0M459 1028.5h0M439.5 1026h0M447 1051h0M414 1040.5h0M436 1022h0M442.5 1048.5h0M442.5 993h0M413.5 1034h0M421 971.5h0M424 914.5h0M402.5 1025h0M452 1045.5h0M440 1042h0M445 1039h0M448 971.5h0M425.5 942h0M427 995h0M428 1021.5h0M446 1009.5h0M398 1052.5h0M439.5 1039.5h0M451.5 1040h0M422 1043.5h0M417 1025.5h0M424.5 985h0M429 1015.5h0M432.5 1025.5h0M398 993.5h0M393.5 1002.5h0M439 1015.5h0M443.5 1016h0M434.5 1004h0M451 973.5h0M439 973.5h0M414 944.5h0M419 998.5h0M422 974h0M400 968h0M418 1053h0M448.5 999.5h0M418 968h0M447 960.5h0M438 1004.5h0M444 937h0M417 1048h0M445.5 992.5h0M419.5 1038.5h0M430.5 1034.5h0M453 1027.5h0M420 997.5h0M448.5 1004h0M416 1019.5h0M411.5 1026h0M433 990h0M430.5 999h0M452 1018h0M409 966.5h0M428.5 1041.5h0M424 978.5h0M449 974h0M401.5 995h0M439.5 1038h0M434.5 1001.5h0M449.5 1004.5h0M426 965.5h0M431.5 953h0M435 1017h0M405.5 1000.5h0M431.5 997h0M439.5 1051.5h0M439 1043.5h0M420.5 1049h0M436.5 1019h0M422 1026h0M438 1019h0M385.5 977.5h0M418 1035.5h0M428 957.5h0M397 1006.5h0M431.5 1044h0M422 942.5h0M413.5 974.5h0M430.5 1000.5h0M444.5 1013.5h0M436 1049.5h0M426 981.5h0M397 958.5h0M385 1012.5h0M421 1046.5h0M410.5 1047h0M403.5 991.5h0M433.5 1027h0M397.5 947h0M402.5 1052.5h0M431 1033.5h0M420 946.5h0M403.5 932.5h0M433.5 915.5h0M463 981.5h0M375.5 1039h0M446.5 1040h0M424 949.5h0M435.5 981h0M421.5 1039h0M402 1019h0M458.5 972.5h0M428.5 994h0M430.5 1017.5h0M436.5 1049.5h0M434 915h0M422 1017.5h0M395 1045.5h0M442.5 997h0M399.5 980.5h0M456 1042.5h0M427.5 997.5h0M407.5 1034.5h0M402.5 1038h0M448 1042h0M434.5 929.5h0M458 1032h0M454 1045.5h0M398.5 1023h0M421 1036h0M418 988.5h0M427.5 958h0M427 1048.5h0M425 1032h0M383 1049h0M404.5 910h0M440 933.5h0M434.5 1036.5h0M415.5 912h0M421 1009.5h0M431.5 1020.5h0M401.5 1045.5h0M425.5 1022h0M441 1013.5h0M435 987.5h0M438 1030.5h0M424 1030.5h0M421 938h0M424.5 1029h0M428 1013.5h0M428.5 1008h0M431.5 1037.5h0M437 990.5h0M419.5 986.5h0M417 993h0M445.5 952h0M416.5 960.5h0M441 1005.5h0M394.5 1036h0M431.5 1040.5h0M401 1042h0M446 974.5h0M427 976h0M430 982h0M442.5 1035.5h0M408.5 1023h0M414 931.5h0M436.5 961.5h0M588.5 1090.5h0M577.5 1083.5h0M588 1098.5h0M592.5 1095h0M590 1086h0M588.5 1081h0M572.5 1093h0M572.5 1078.5h0M578.5 1070h0M608.5 1097.5h0M586 1082.5h0M586.5 1035.5h0M586.5 1092.5h0M572 1069.5h0M571.5 1076h0M572 1091.5h0M581 1084h0M576.5 1086h0M587 1088h0M579.5 1089.5h0M594 1093.5h0M577 1074h0M575.5 1065.5h0M590 1062.5h0M583.5 1087h0M584.5 1093.5h0M575 1088.5h0M572 1081h0M584 1084.5h0M585 1094.5h0M582.5 1083h0M583.5 1098.5h0M581 1099h0M574 1097h0M574 1090.5h0M574.5 1085.5h0M573.5 1086h0M579 1071.5h0M582 1072.5h0M573.5 1084h0M577.5 1096.5h0M572 1063h0M596.5 1095.5h0M583.5 1094h0M573.5 1098.5h0M598 1081.5h0M577 1078h0M589.5 1085h0M589.5 1068.5h0M578.5 1087h0M581.5 1094.5h0M584.5 1081h0M599 1076.5h0M574 1071h0M581 1078.5h0M578 1067h0M584 1075.5h0M573.5 1095.5h0M586 1048h0M577.5 1076.5h0M581.5 1076.5h0M590 1092.5h0M575.5 1098.5h0M589.5 1064.5h0M594 1097.5h0M577 1089h0M580.5 1082h0M590.5 1097.5h0M591 1095h0M581.5 1060.5h0M600.5 1081h0M584.5 1097.5h0M580 1040.5h0M574 1094h0M577.5 1095h0M597.5 1097.5h0M583 1089.5h0M575.5 1081h0M578.5 1095.5h0M581 1092h0M580.5 1093.5h0M599.5 1091h0M594.5 1094.5h0M600.5 1085h0M576.5 1086h0M573.5 1081.5h0M572.5 1088.5h0M579 1084.5h0M618 1082h0M603.5 1063.5h0M577 1049h0M581.5 1097.5h0M575.5 1086.5h0M578.5 1051h0M574.5 1082h0M572 1077h0M584 1092h0M594 1070.5h0M594.5 1056h0M581 1086h0M572 1096h0M582 1046.5h0M572 1053.5h0M574 1097.5h0M584 1097.5h0M579 1092h0M585 1055h0M574.5 1057.5h0M574.5 1093.5h0M588.5 1092.5h0M582.5 1045h0M590 1052.5h0M578.5 1094h0M572 1042.5h0M577.5 1098h0M573.5 1087.5h0M573 1040.5h0M578.5 1097.5h0M589.5 1095h0M595.5 1017h0M587 1059h0M622.5 1094.5h0M581.5 1075.5h0M584 1087h0M576 1074.5h0M579 1080h0M608 1087.5h0M587.5 1098.5h0M596.5 1045.5h0M577 1081.5h0M576.5 1075h0M586 1081.5h0M596 1092.5h0M580 1020.5h0M574 1066.5h0M620.5 1068.5h0M580 1049h0M601.5 1076.5h0M588.5 1071h0M574.5 1046.5h0M583.5 1072.5h0M598.5 1096.5h0M571.5 1084.5h0M623 1091.5h0M587.5 1070h0M587.5 1094.5h0M576.5 1069h0M591.5 1063.5h0M576.5 999.5h0M600 1097.5h0M597 1090h0M572 1078.5h0M594.5 1097h0M587 1092h0M579.5 1075h0M573 1023.5h0M571.5 1086.5h0M626 1094.5h0M592.5 1074.5h0M593 1091.5h0M613.5 1089h0M572 1072h0M578 1071.5h0M585.5 1083h0M588 1073h0M611.5 1067h0M586.5 1038.5h0M577.5 1047h0M617 1093h0M621 1095.5h0M578.5 1098.5h0M581 1089h0M590 1086h0M616 1037.5h0M572.5 1049.5h0M590.5 1039h0M602 1094h0M585 1085.5h0M594.5 1081.5h0M579 1083.5h0M588 1057.5h0M592.5 1078.5h0M602 1094h0M590 1090h0M573.5 1067.5h0M582 1063.5h0M575 1069.5h0M584.5 1078.5h0M605 1079h0M584.5 1073.5h0M579.5 1010.5h0M574.5 1078.5h0M587.5 1066h0M583 1095.5h0M606.5 1079.5h0M580 1055h0M580.5 1043h0M601 1078h0M571.5 1094h0M574 1077.5h0M575 1060h0M603 1054h0M589 1088h0M604 1057h0M615 1094h0M610.5 1078h0M579 1034.5h0M599.5 1089h0M608 1061.5h0M581.5 1035.5h0M592.5 1071h0M573 1062h0M584.5 1088h0M571.5 1091h0M572 1094h0M627 1088.5h0M587 1032.5h0M577.5 1043h0M578 1051h0M575.5 1037.5h0M617 1083.5h0M615.5 1096h0M577.5 1092h0M572.5 1025h0M599 1070.5h0M597.5 1098h0M582 1031.5h0M584 1081h0M587 1066h0M590.5 1064h0M589 1077.5h0M597.5 1086h0M596.5 1087.5h0M605 1029h0M583.5 1056.5h0M581 1067.5h0M591.5 1073h0M572 1018.5h0M575 1063h0M577 1093h0M582.5 1038h0M572 1089.5h0M577 1060.5h0M605 1084.5h0M575.5 1072h0M605 1089.5h0M593.5 1047h0M593.5 1080.5h0M583 1092h0M587 1026.5h0M599.5 1063h0M579.5 1077h0M587 1096h0M578 1073.5h0M593.5 1082.5h0M583 1066.5h0M576.5 991.5h0M627.5 1050.5h0M595.5 1075.5h0M609.5 1076.5h0M580 1046h0M587 1055h0M573.5 1077.5h0M581.5 1053.5h0M591 1089h0M582.5 1079.5h0M606.5 1092.5h0M593 1089h0M601 1066h0M574 1057.5h0M632.5 1082h0M574 1044h0M594 1085.5h0M608 1072.5h0M598 1064.5h0M573.5 1075.5h0M574.5 1026.5h0M578 1037h0M575 1050h0M594 1068.5h0M613.5 1071h0M587 1036h0M579 1058h0M573 1058.5h0M585.5 1075.5h0M574.5 1071h0M590.5 1069h0M598.5 1055.5h0M620.5 1070h0M585.5 1051.5h0M590 1079h0M579.5 1078h0M582 1071h0M574.5 1034h0M588 1079h0M607 1095h0M579.5 1031.5h0M601 1094h0M579 1057h0M585.5 1098.5h0M589.5 1078.5h0M600.5 1087.5h0M596 1090h0M591.5 1077.5h0M587.5 1076h0M598 1080.5h0M609.5 1085h0M606.5 1086.5h0M594.5 1098.5h0M623.5 1080h0M577 1035.5h0M572 1098.5h0M619.5 1079h0M574 1027h0M610 1044h0M608 1048h0M578 1052.5h0M589 1098h0M579.5 1043h0M597.5 1066h0M596 1062.5h0M583 1041.5h0M605 1086.5h0M590 1045h0M617 1084.5h0M594 1086.5h0M599 1085h0M576.5 1009h0M608 1078h0M585 1064h0M585.5 1061h0M590.5 1048.5h0M600 1072.5h0M596.5 1072.5h0M587 1086.5h0M577.5 1063h0M585.5 1071h0M604.5 1072.5h0M580 1064h0M578.5 1014h0M575 1044h0M573 1012.5h0M581.5 1038.5h0M575.5 1019h0M617.5 1076.5h0M610.5 1091h0M591.5 1053h0M593 1069.5h0M645 1091h0M595.5 1062h0M572 1072h0M618.5 1082h0M582.5 1025.5h0M589 1072.5h0M571.5 1082.5h0M574.5 1025.5h0M590 1005h0M616 1084h0M584.5 1033.5h0M583 1068h0M582.5 1061.5h0M573 1062h0M584 1065h0M600 1087.5h0M600.5 1084h0M594.5 1079.5h0M621.5 1040h0M591 1072h0M578.5 1063h0M603.5 1097.5h0M585 1078h0M593.5 1086h0M584 1076h0M584.5 1029.5h0M577 1058.5h0M596 1091h0M576.5 1064.5h0M571.5 1018.5h0M615 1067h0M605 1072h0M603.5 1092h0M580.5 1051.5h0M591 1082.5h0M603 1095.5h0M582 1080.5h0M608 1066h0M572 1065.5h0M572 1071.5h0M607 1071.5h0M597 1094h0M587 1076.5h0M607.5 1089.5h0M580.5 1065.5h0M574.5 1031.5h0M597.5 1063h0M601.5 1075h0M582.5 1054h0M572.5 1032h0M595.5 1082h0M609 1089h0M588.5 1074.5h0M605.5 1039h0M574 1045.5h0M589 1046h0M604.5 1097.5h0M604.5 1091h0M597 1076h0M604.5 1093h0M597 1082.5h0M606 1069h0M580 1057.5h0M594 1066h0M655.5 1091h0M605.5 1080h0M620 1094h0M583 986h0M578 1002h0M583.5 1019h0M571.5 1046h0M594 1073.5h0M588.5 1059.5h0M599.5 1066.5h0M591 1066.5h0M585 1062.5h0M577.5 1030.5h0M577 1055h0M574 1061.5h0M576 1066.5h0M572 1038h0M597 1072h0M580.5 1048.5h0M616 1062.5h0M615.5 1091.5h0M604 1081.5h0M586.5 1084h0M579.5 1018.5h0M608.5 1092.5h0M611.5 1086h0M583.5 1063h0M592.5 1067.5h0M603.5 1088.5h0M598.5 1056.5h0M583.5 1053h0M618 1071.5h0M606.5 1057h0M657.5 1062h0M638.5 1070h0M638.5 1078.5h0M601 1091.5h0M611 1042h0M602 1086.5h0M646 1082h0M590 1086.5h0M622 1034h0M593 1056h0M657 1076h0M606.5 1096.5h0M632.5 1094.5h0M597.5 1070h0M634 1090h0M636 1093.5h0M618.5 1096h0M637.5 1055h0M616 1075h0M581.5 1003.5h0M604.5 1058h0M594 1064h0M627 1093h0M578 1041.5h0M587 1062.5h0M589 1082.5h0M608 1091.5h0M584.5 1067.5h0M608 1090.5h0M592 1043h0M613.5 1097h0M634.5 1094.5h0M660.5 1083.5h0M605 1083.5h0M607 1080.5h0M575.5 1055h0M601 1052h0M587 1051h0M629.5 1083h0M658 1085.5h0M614.5 1086.5h0M573 1051h0M598 1093h0M654 1084h0M608 1094.5h0M613.5 1093h0M633 1077h0M637 1061.5h0M600 1010h0M582.5 1038.5h0M592.5 1050.5h0M581.5 1037h0M597 1016h0M598 1017h0M575.5 1053.5h0M595.5 987h0M594 1034.5h0M590.5 1033h0M599 1042h0M585.5 999h0M578 997h0M602.5 967h0M595 1019.5h0M586 1031h0M585.5 1020.5h0M592 1017h0M590 1012h0M591 982.5h0M585 965.5h0M599 1036.5h0M593.5 1020h0M591 1026.5h0M591 1052h0M604 1048h0M606.5 1041.5h0M579.5 1037h0M584 1048h0M583 999h0M592.5 1007.5h0M589 1017h0M606.5 1046h0M586.5 1001.5h0M603 1003h0M588.5 957.5h0M596 1048.5h0M590.5 963h0M587 1004.5h0M588 1053h0M575.5 997h0M600 1021h0M596.5 988.5h0M592.5 1039h0M596.5 1025.5h0M590 1047.5h0M589 1037.5h0M610.5 1047.5h0M596 1040h0M599.5 1023.5h0M577.5 1002.5h0M575 1046h0M595.5 1032h0M595 1044h0M600 1043.5h0M595 1038.5h0M592 1042h0M589 1016h0M587.5 997.5h0M591 996.5h0M595.5 959.5h0M589 1010.5h0M597.5 946.5h0M590 1003.5h0M585.5 1024.5h0M604 1047.5h0M600 971.5h0M579 1039h0M593.5 994h0M584 1009h0M592.5 1053h0M592 970.5h0M601 1028h0M594 1026.5h0M593 1025h0M600.5 1041.5h0M614.5 1040.5h0M588 1024.5h0M585.5 1031.5h0M606 1053h0M594.5 1053.5h0M591.5 1001.5h0M581.5 1010h0M582.5 1002h0M602 1044h0M598.5 937h0M672.5 1072h0M660 1086.5h0M670 1079.5h0M645.5 1054.5h0M655.5 1058h0M660 1058h0M333 925.5h0M339.5 940.5h0M320.5 959h0M363.5 961h0M358 970.5h0M347.5 989h0M369 987.5h0M383.5 916.5h0M380.5 932.5h0M382.5 955.5h0M376 971.5h0M387.5 969h0M653.5 970.5h0M639 959h0M622 950h0M617.5 957h0M695 1007.5h0M723 1050h0"/>
<path fill="none" stroke="#05508f" stroke-width="5.4" stroke-linecap="round" d="M310 705.5h0M301 718.5h0M343.5 766.5h0M249.5 781h0M301.5 782h0M285.5 799.5h0M406 800h0M633 811h0M321.5 828.5h0M326 848.5h0M412.5 862.5h0M414.5 869h0M387 873h0M418.5 881h0M418 884.5h0M411.5 890.5h0M395 898.5h0M416 909h0M292.5 906h0M429 906h0M309 974h0M172.5 1000.5h0M276 1000.5h0M310 1015.5h0M303.5 1026h0M309 1033.5h0M259.5 1036.5h0M273 1044.5h0M262.5 1059.5h0M310 1067.5h0M293.5 1072.5h0"/>
<line x1="128.4" y1="670.8" x2="128.4" y2="1100.4" stroke="#000" stroke-width="3"/>
<line x1="126.9" y1="1098.9" x2="769.8" y2="1098.9" stroke="#000" stroke-width="2.5"/>
<line x1="120.9" y1="1098.9" x2="128.4" y2="1098.9" stroke="#000" stroke-width="3"/>
<text font-size="28.8" text-anchor="end" stroke="#000" stroke-width="0.5" transform="translate(118.4 1108.7) scale(0.95 1)">0</text>
<line x1="120.9" y1="1027.8" x2="128.4" y2="1027.8" stroke="#000" stroke-width="3"/>
<text font-size="28.8" text-anchor="end" stroke="#000" stroke-width="0.5" transform="translate(118.4 1037.6) scale(0.95 1)">40</text>
<line x1="120.9" y1="956.7" x2="128.4" y2="956.7" stroke="#000" stroke-width="3"/>
<text font-size="28.8" text-anchor="end" stroke="#000" stroke-width="0.5" transform="translate(118.4 966.5) scale(0.95 1)">80</text>
<line x1="120.9" y1="885.6" x2="128.4" y2="885.6" stroke="#000" stroke-width="3"/>
<text font-size="28.8" text-anchor="end" stroke="#000" stroke-width="0.5" transform="translate(118.4 895.4) scale(0.95 1)">120</text>
<line x1="120.9" y1="814.5" x2="128.4" y2="814.5" stroke="#000" stroke-width="3"/>
<text font-size="28.8" text-anchor="end" stroke="#000" stroke-width="0.5" transform="translate(118.4 824.3) scale(0.95 1)">160</text>
<line x1="120.9" y1="743.4" x2="128.4" y2="743.4" stroke="#000" stroke-width="3"/>
<text font-size="28.8" text-anchor="end" stroke="#000" stroke-width="0.5" transform="translate(118.4 753.2) scale(0.95 1)">200</text>
<line x1="120.9" y1="672.3" x2="128.4" y2="672.3" stroke="#000" stroke-width="3"/>
<text font-size="28.8" text-anchor="end" stroke="#000" stroke-width="0.5" transform="translate(118.4 682.1) scale(0.95 1)">240</text>
<line x1="122.8" y1="1063.4" x2="128.4" y2="1063.4" stroke="#000" stroke-width="3"/>
<line x1="122.8" y1="992.2" x2="128.4" y2="992.2" stroke="#000" stroke-width="3"/>
<line x1="122.8" y1="921.2" x2="128.4" y2="921.2" stroke="#000" stroke-width="3"/>
<line x1="122.8" y1="850" x2="128.4" y2="850" stroke="#000" stroke-width="3"/>
<line x1="122.8" y1="779" x2="128.4" y2="779" stroke="#000" stroke-width="3"/>
<line x1="122.8" y1="707.8" x2="128.4" y2="707.8" stroke="#000" stroke-width="3"/>
<line x1="276" y1="1098.9" x2="276" y2="1104.5" stroke="#000" stroke-width="2.5"/>
<text font-size="28.8" text-anchor="middle" stroke="#000" stroke-width="0.5" transform="translate(276 1132) scale(0.95 1)">-5</text>
<line x1="522.3" y1="1098.9" x2="522.3" y2="1104.5" stroke="#000" stroke-width="2.5"/>
<text font-size="28.8" text-anchor="middle" stroke="#000" stroke-width="0.5" transform="translate(522.3 1132) scale(0.95 1)">0</text>
<line x1="768.5" y1="1098.9" x2="768.5" y2="1104.5" stroke="#000" stroke-width="2.5"/>
<text font-size="28.8" text-anchor="middle" stroke="#000" stroke-width="0.5" transform="translate(768.5 1132) scale(0.95 1)">5</text>
<text x="448.6" y="682.3" font-size="35.8" text-anchor="middle" stroke="#000" stroke-width="0.5">D1 Hard vs Soft</text>
<text x="449" y="1168" font-size="27.9" text-anchor="middle" stroke="#000" stroke-width="0.5">Log2FoldChange</text>
<text font-size="29.8" text-anchor="middle" stroke="#000" stroke-width="0.5" transform="translate(54 875.8) rotate(-90) scale(0.93 1)">-Log10 padj</text>
<text x="27.5" y="658.5" font-size="57" font-weight="bold" fill="#231f20">b</text>
</g>
<g>
<path fill="none" stroke="#0c3f7f" stroke-width="6" stroke-linecap="round" d="M495.5 1742.5h0M487 1746.5h0M445.5 1751.5h0M463 1752.5h0M495 1755.5h0M474 1754h0M470.5 1747h0M491.5 1746.5h0M451 1752h0M494 1754h0M477 1741.5h0M468 1733.5h0M462.5 1754h0M451 1741.5h0M432.5 1748.5h0M484 1752.5h0M458 1746h0M454 1741h0M483.5 1755.5h0M498.5 1742h0M431 1740h0M483 1752.5h0M482 1751.5h0M438 1751h0M463 1748h0M471.5 1754h0M448 1748h0M497.5 1743.5h0M453.5 1748.5h0M478 1741h0M457 1737.5h0M434.5 1751h0M489 1755h0M459.5 1744h0M450.5 1753h0M452 1753.5h0M488 1744h0M443.5 1752.5h0M457 1754h0M455.5 1734h0M444 1742h0M474.5 1752.5h0M449 1752.5h0M439 1741.5h0M494.5 1745.5h0M441.5 1745.5h0M477 1749.5h0M470.5 1749h0M492 1738.5h0M454 1748h0M484.5 1749h0M464.5 1743.5h0M476.5 1747h0M460.5 1743.5h0M490.5 1753.5h0M449.5 1750.5h0M464 1753h0M435.5 1742.5h0M441.5 1751.5h0M432 1749.5h0M460 1752h0M461 1735h0M447 1752h0M496.5 1752.5h0M478.5 1749h0M489.5 1749.5h0M488.5 1747.5h0M441 1742h0M493.5 1755h0M483.5 1747.5h0M469.5 1754.5h0M441.5 1752h0M432 1751h0M455.5 1753h0M478.5 1755h0M456.5 1738h0M456.5 1751.5h0M467.5 1751h0M469.5 1743.5h0M498 1751h0M467 1736.5h0M489 1739h0M477 1752.5h0M477.5 1755h0M436.5 1750h0M480 1746h0M466 1747h0M464.5 1742h0M433.5 1751h0M442.5 1742.5h0M444.5 1752.5h0M444 1748.5h0M486 1746.5h0M480.5 1755.5h0M485.5 1754.5h0M464 1744.5h0M482 1753.5h0M460.5 1753.5h0M473.5 1735.5h0M453.5 1747h0M468.5 1753h0M481 1751h0M434.5 1741.5h0M486.5 1741.5h0M492 1746h0M480.5 1742.5h0M487.5 1737.5h0M466.5 1752h0M434 1748h0M456.5 1743h0M429 1748h0M466.5 1745.5h0M439 1744h0M497 1742h0M462.5 1751.5h0M434 1745.5h0M466.5 1741h0M498.5 1755.5h0M496.5 1754.5h0M487 1746h0M456.5 1734.5h0M476 1734h0M453.5 1750.5h0M482.5 1740h0M478.5 1750.5h0M469.5 1740.5h0M447 1738.5h0M491.5 1751.5h0M473.5 1754.5h0M464.5 1749h0M498.5 1746.5h0M455 1745.5h0M439.5 1737.5h0M465.5 1754.5h0M464.5 1750h0M460.5 1754h0M447 1734.5h0M458.5 1746h0M452.5 1738h0M439.5 1748.5h0M432 1744h0M493 1749h0M476.5 1739.5h0M485 1742.5h0M457 1749h0M470 1745.5h0M498.5 1750h0M484.5 1740.5h0M438.5 1742.5h0M466 1747h0M491 1755.5h0M460.5 1738.5h0M475.5 1744.5h0M451 1744.5h0M458.5 1749.5h0M479.5 1754h0M454 1750h0M474 1753h0M435.5 1738.5h0M489.5 1752h0M461.5 1740h0M470.5 1739.5h0M444 1740h0M445 1747h0M461 1750h0M469 1751h0M446 1745h0M467.5 1743.5h0M477.5 1742.5h0M443.5 1752h0M496.5 1750.5h0M488.5 1751.5h0M440 1747.5h0M451 1744h0M429.5 1750.5h0M498.5 1754h0M439 1739h0M487.5 1751h0M472 1740h0M481 1734.5h0M451.5 1737.5h0M459.5 1750.5h0M443 1738h0M475 1751h0M486.5 1754.5h0M485.5 1751h0M426.5 1719h0M425 1721.5h0M435.5 1722.5h0M408 1718h0M410.5 1730.5h0M422.5 1733.5h0M413.5 1744h0M410.5 1745.5h0M393.5 1738.5h0M399 1739h0M404 1739.5h0M468 1722.5h0M486 1725.5h0M605.5 1751.5h0M628.5 1753h0M655.5 1750.5h0M659 1744h0M622.5 1754.5h0M669.5 1746.5h0M668.5 1750h0M616.5 1749h0M606.5 1748h0M656 1750h0M666 1751.5h0M640 1753.5h0M627 1755h0M630 1752.5h0M619.5 1753h0M664.5 1743h0M606 1745.5h0M607.5 1748.5h0M604 1749h0M636 1747.5h0M631 1755h0M660 1752.5h0M642.5 1754h0M636 1748.5h0M629 1755h0M605 1754h0M639.5 1746h0M610.5 1751.5h0M639.5 1754h0M636 1751.5h0M612.5 1747h0M607.5 1751h0M641 1754h0M646 1754h0M607 1755.5h0M613.5 1754.5h0M608 1752h0M637 1754h0M615 1750.5h0M659 1751.5h0M639.5 1751h0M639 1747.5h0M646 1750h0M665 1744.5h0M634.5 1754.5h0M603.5 1747h0M617 1751h0M647.5 1742h0M618 1754.5h0M640.5 1751.5h0M620.5 1750.5h0M666.5 1745h0M619 1746h0M650 1751h0M621 1744.5h0M625.5 1744h0M617.5 1753h0M616.5 1745h0M650 1746.5h0M616 1745h0M641.5 1743.5h0M652.5 1750.5h0M608.5 1753h0M667.5 1751h0M614 1748.5h0M651 1749h0M659.5 1747h0M659.5 1749.5h0M645 1743.5h0M603.5 1751.5h0M647.5 1750h0M652.5 1753h0M604 1753.5h0M660.5 1743.5h0M608 1751.5h0M625.5 1751.5h0M649.5 1743h0M621.5 1755h0M614.5 1755h0M634 1749h0M664 1748.5h0M635 1746.5h0M624 1754h0M605 1753.5h0M615.5 1747h0M628 1747.5h0M608 1750h0M630.5 1744h0M656 1739h0M633 1751h0M628.5 1750.5h0M671 1751h0M618 1744h0M623 1748h0M633.5 1745.5h0M634 1754.5h0M617 1743.5h0M647.5 1752h0M622.5 1745.5h0M655 1748.5h0M633.5 1748h0M642 1753.5h0M670 1749h0M603.5 1755.5h0M610.5 1755.5h0M670.5 1748.5h0M608 1745h0M626.5 1751h0M626.5 1754h0M612.5 1743h0M626.5 1746.5h0M663 1743h0M619 1754.5h0M664.5 1747.5h0M643.5 1744h0M619.5 1745.5h0M666.5 1748.5h0M657 1740.5h0M657.5 1752.5h0M646 1746.5h0M632.5 1743h0M649.5 1753h0M619 1742h0M661 1750h0M609.5 1754.5h0M671.5 1747.5h0M617.5 1747.5h0M656 1747.5h0M608 1748h0M653 1749h0M658.5 1741h0M638.5 1748.5h0M647 1746h0M605 1746.5h0M604.5 1749.5h0M642 1744.5h0M620 1751.5h0M645 1749h0M622 1751h0M648.5 1749.5h0M631 1747h0M651 1742h0M627 1743h0M668 1747.5h0M620.5 1746.5h0M638 1744.5h0M655.5 1742h0M645.5 1747.5h0M623.5 1752.5h0M662 1747.5h0M612 1753h0M633.5 1752h0M609.5 1744.5h0M631.5 1743.5h0M643 1751.5h0M621.5 1754h0M625.5 1744.5h0M626 1752.5h0M643.5 1732h0M657 1733h0M668.5 1729.5h0M675.5 1738h0M682 1736.5h0M679.5 1745.5h0M676 1742.5h0M408 1680h0M432 1700h0M368 1731.5h0M426 1717.5h0M427 1721h0M435.5 1722h0M468 1721h0M706 1725.5h0M757 1727h0M669 1727.5h0M642.5 1730.5h0M657.5 1731.5h0M616.5 1731.5h0M687 1734h0"/>
<line x1="131.3" y1="1302.6" x2="131.3" y2="1759.9" stroke="#000" stroke-width="2.3"/>
<line x1="130.2" y1="1758.7" x2="814.4" y2="1758.7" stroke="#000" stroke-width="2.3"/>
<line x1="123.6" y1="1758.7" x2="131.3" y2="1758.7" stroke="#000" stroke-width="2.3"/>
<text font-size="30.3" text-anchor="end" stroke="#000" stroke-width="0.5" transform="translate(117 1768.7) scale(0.95 1)">0</text>
<line x1="123.6" y1="1682.9" x2="131.3" y2="1682.9" stroke="#000" stroke-width="2.3"/>
<text font-size="30.3" text-anchor="end" stroke="#000" stroke-width="0.5" transform="translate(117 1692.9) scale(0.95 1)">40</text>
<line x1="123.6" y1="1607.1" x2="131.3" y2="1607.1" stroke="#000" stroke-width="2.3"/>
<text font-size="30.3" text-anchor="end" stroke="#000" stroke-width="0.5" transform="translate(117 1617.1) scale(0.95 1)">80</text>
<line x1="123.6" y1="1531.2" x2="131.3" y2="1531.2" stroke="#000" stroke-width="2.3"/>
<text font-size="30.3" text-anchor="end" stroke="#000" stroke-width="0.5" transform="translate(117 1541.3) scale(0.95 1)">120</text>
<line x1="123.6" y1="1455.4" x2="131.3" y2="1455.4" stroke="#000" stroke-width="2.3"/>
<text font-size="30.3" text-anchor="end" stroke="#000" stroke-width="0.5" transform="translate(117 1465.5) scale(0.95 1)">160</text>
<line x1="123.6" y1="1379.6" x2="131.3" y2="1379.6" stroke="#000" stroke-width="2.3"/>
<text font-size="30.3" text-anchor="end" stroke="#000" stroke-width="0.5" transform="translate(117 1389.7) scale(0.95 1)">200</text>
<line x1="123.6" y1="1303.8" x2="131.3" y2="1303.8" stroke="#000" stroke-width="2.3"/>
<text font-size="30.3" text-anchor="end" stroke="#000" stroke-width="0.5" transform="translate(117 1313.8) scale(0.95 1)">240</text>
<line x1="288.8" y1="1758.7" x2="288.8" y2="1766.2" stroke="#000" stroke-width="2.3"/>
<text font-size="30.3" text-anchor="middle" stroke="#000" stroke-width="0.5" transform="translate(288.8 1794) scale(0.95 1)">-5</text>
<line x1="551" y1="1758.7" x2="551" y2="1766.2" stroke="#000" stroke-width="2.3"/>
<text font-size="30.3" text-anchor="middle" stroke="#000" stroke-width="0.5" transform="translate(551 1794) scale(0.95 1)">0</text>
<line x1="813.2" y1="1758.7" x2="813.2" y2="1766.2" stroke="#000" stroke-width="2.3"/>
<text font-size="30.3" text-anchor="middle" stroke="#000" stroke-width="0.5" transform="translate(813.2 1794) scale(0.95 1)">5</text>
<line x1="131.4" y1="1758.7" x2="131.4" y2="1763.2" stroke="#000" stroke-width="2.3"/>
<line x1="183.8" y1="1758.7" x2="183.8" y2="1763.2" stroke="#000" stroke-width="2.3"/>
<line x1="236.3" y1="1758.7" x2="236.3" y2="1763.2" stroke="#000" stroke-width="2.3"/>
<line x1="341.2" y1="1758.7" x2="341.2" y2="1763.2" stroke="#000" stroke-width="2.3"/>
<line x1="393.6" y1="1758.7" x2="393.6" y2="1763.2" stroke="#000" stroke-width="2.3"/>
<line x1="446.1" y1="1758.7" x2="446.1" y2="1763.2" stroke="#000" stroke-width="2.3"/>
<line x1="498.6" y1="1758.7" x2="498.6" y2="1763.2" stroke="#000" stroke-width="2.3"/>
<line x1="603.5" y1="1758.7" x2="603.5" y2="1763.2" stroke="#000" stroke-width="2.3"/>
<line x1="655.9" y1="1758.7" x2="655.9" y2="1763.2" stroke="#000" stroke-width="2.3"/>
<line x1="708.4" y1="1758.7" x2="708.4" y2="1763.2" stroke="#000" stroke-width="2.3"/>
<line x1="760.8" y1="1758.7" x2="760.8" y2="1763.2" stroke="#000" stroke-width="2.3"/>
<text x="490" y="1301" font-size="38" text-anchor="middle" stroke="#000" stroke-width="0.5">D3 Hard vs Soft</text>
<text x="473.2" y="1836.6" font-size="29.9" text-anchor="middle" stroke="#000" stroke-width="0.5">Log2FoldChange</text>
<text font-size="31.3" text-anchor="middle" stroke="#000" stroke-width="0.5" transform="translate(37.8 1516.5) rotate(-90) scale(0.94 1)">-Log10 padj</text>
<text x="27" y="1249" font-size="56" font-weight="bold" fill="#231f20">c</text>
</g>
<g>
<path fill="none" stroke="#0c3f7f" stroke-width="4.8" stroke-linecap="round" d="M420.5 2373.5h0M448 2382h0M418.5 2378.5h0M470 2380h0M442 2376h0M455.5 2383h0M430 2375h0M466 2383h0M425.5 2380.5h0M446 2366h0M423.5 2379.5h0M450 2382.5h0M452.5 2383h0M431 2366h0M418 2376h0M456 2373h0M419 2376h0M421.5 2379.5h0M466 2378.5h0M442 2370.5h0M436 2380h0M420.5 2375.5h0M438.5 2368h0M468 2380h0M448.5 2373.5h0M448.5 2379h0M457 2380h0M463.5 2372h0M447 2365.5h0M440 2382h0M421 2377h0M443.5 2381h0M461.5 2376.5h0M421.5 2372h0M438 2378h0M464 2376h0M437 2367h0M432 2381.5h0M465.5 2382.5h0M451 2379.5h0M456.5 2368h0M466 2376h0M419.5 2374h0M424.5 2377.5h0M455.5 2371.5h0M434 2379.5h0M471.5 2382.5h0M422.5 2371.5h0M446.5 2369h0M429 2372.5h0M461 2382.5h0M455.5 2380.5h0M457 2369h0M448.5 2381h0M420 2377.5h0M454.5 2378.5h0M459.5 2381.5h0M429.5 2368.5h0M469 2382h0M425 2374.5h0M422.5 2377h0M463 2373h0M431 2372h0M441.5 2377h0M448 2366.5h0M436.5 2364.5h0M447 2366.5h0M440 2376.5h0M456 2374.5h0M458 2382h0M440.5 2378.5h0M441.5 2374h0M471 2379.5h0M449.5 2377h0M438.5 2361.5h0M448.5 2369h0M442.5 2373h0M443.5 2375.5h0M469.5 2380.5h0M437 2381.5h0M458.5 2376h0M433 2373h0M448 2379.5h0M455.5 2368.5h0M434 2363.5h0M465.5 2381h0M460.5 2379.5h0M453.5 2373h0M429 2378.5h0M428.5 2363.5h0M473 2379h0M456.5 2376.5h0M445.5 2370h0M427 2377.5h0M433.5 2381h0M447 2376.5h0M419 2380h0M428 2381h0M457 2375h0M432 2377h0M471 2377h0M463 2374h0M463 2383h0M446.5 2370.5h0M428 2365h0M428 2363h0M433 2377.5h0M431 2372h0M458.5 2371.5h0M441 2370h0M424.5 2371h0M453.5 2375.5h0M458.5 2379.5h0M433 2374.5h0M431 2376h0M439 2380h0M441 2382h0M438 2362h0M427.5 2369h0M433 2361.5h0M468.5 2377h0M424 2380.5h0M443.5 2369.5h0M438 2378.5h0M436 2368.5h0M423 2375.5h0M434.5 2362.5h0M420 2380h0M469 2380h0M425.5 2380h0M460 2375h0M428.5 2381h0M450.5 2376.5h0M467.5 2378.5h0M450 2369h0M435.5 2382h0M459 2382.5h0M447 2382h0M462 2381h0M446 2382h0M450.5 2372h0M473 2382.5h0M432 2369.5h0M433.5 2370.5h0M453 2377h0M434.5 2376h0M427.5 2379.5h0M458.5 2374h0M465 2374.5h0M452 2380h0M424 2373h0M464.5 2374h0M450 2380.5h0M431.5 2365h0M426.5 2371h0M460.5 2381h0M446 2375.5h0M431 2363h0M448.5 2375.5h0M466 2372.5h0M442 2379h0M452.5 2365.5h0M434 2373.5h0M442.5 2365.5h0M417.5 2379.5h0M450.5 2382h0M460.5 2371.5h0M445 2376.5h0M441 2368.5h0M404.5 2356.5h0M402 2362h0M412.5 2362.5h0M419.5 2362.5h0M397.5 2375.5h0M406 2378h0M411 2379h0M400 2374h0M661.5 2371.5h0M680 2366h0M606 2379h0M659.5 2373h0M614.5 2379.5h0M612 2375.5h0M684.5 2365.5h0M584 2380.5h0M624 2376h0M661 2373h0M641.5 2374h0M611.5 2378.5h0M594 2377.5h0M626 2371h0M624.5 2379h0M588 2379h0M668.5 2368.5h0M581 2378.5h0M683.5 2366h0M605 2370h0M651 2371.5h0M623 2370.5h0M671 2370h0M581 2376h0M631.5 2370h0M652 2371.5h0M652 2372h0M601.5 2381h0M576 2371h0M681 2367h0M676 2365.5h0M602.5 2373.5h0M666 2368.5h0M584.5 2383h0M599 2368h0M580.5 2375h0M635 2377h0M653 2374.5h0M662.5 2372.5h0M678 2365.5h0M577 2373h0M651.5 2375h0M644 2376.5h0M624.5 2378h0M597 2381.5h0M667.5 2370.5h0M607.5 2374h0M644 2370.5h0M604 2381.5h0M617 2377.5h0M591 2380.5h0M577 2383h0M640 2377h0M654 2371.5h0M648.5 2375.5h0M658 2370h0M663.5 2372h0M623 2368h0M595.5 2379h0M620.5 2372h0M662 2369h0M576.5 2379.5h0M590 2374.5h0M611 2368.5h0M606.5 2379.5h0M603.5 2371.5h0M595 2381.5h0M633.5 2376h0M626 2372h0M607 2372.5h0M583 2380.5h0M670.5 2367.5h0M630 2376h0M577 2371h0M589.5 2383h0M606 2380h0M615 2372.5h0M575.5 2378h0M625.5 2380h0M596 2373h0M580 2374.5h0M635.5 2375.5h0M644 2375.5h0M637.5 2378h0M589.5 2377h0M571.5 2376.5h0M578 2381.5h0M573 2380.5h0M618.5 2375.5h0M630 2375.5h0M647.5 2375.5h0M579 2383.5h0M575 2379h0M572 2374.5h0M653.5 2369.5h0M655.5 2373.5h0M596 2382.5h0M613 2379h0M586 2383h0M602 2381h0M609.5 2374.5h0M591.5 2379h0M601.5 2371h0M613 2381.5h0M629.5 2369h0M588 2375h0M673 2369.5h0M601.5 2382.5h0M640.5 2372.5h0M618.5 2371h0M588 2374h0M636.5 2372h0M664 2372h0M628.5 2376.5h0M581 2381.5h0M679 2367h0M669 2370.5h0M580 2378.5h0M599.5 2382h0M587 2378h0M614 2380h0M615 2374.5h0M643 2370.5h0M585 2379.5h0M654.5 2374.5h0M634.5 2378h0M583 2383h0M583.5 2380h0M671.5 2369h0M606.5 2370.5h0M616.5 2381h0M656.5 2374h0M613 2368h0M603.5 2374.5h0M591 2373.5h0M666 2371h0M676 2368.5h0M660 2370h0M570.5 2381h0M631.5 2374h0M599.5 2381.5h0M609.5 2370.5h0M578 2373h0M645 2376.5h0M572 2373h0M633 2375.5h0M592 2381h0M647 2372h0M605.5 2374h0M573.5 2377.5h0M591.5 2376h0M608 2379h0M618.5 2378.5h0M615.5 2371.5h0M633 2370.5h0M638.5 2377.5h0M613.5 2368.5h0M590.5 2375.5h0M597.5 2378.5h0M604 2382h0M605 2370h0M604.5 2382h0M571.5 2383.5h0M611 2378h0M582.5 2374h0M588 2374h0M581 2383.5h0M642.5 2373h0M581 2373h0M637.5 2371.5h0M633 2378.5h0M578 2374.5h0M597.5 2375.5h0M677 2367.5h0M623.5 2375.5h0M637.5 2378h0M594 2374.5h0M634 2369.5h0M608.5 2376.5h0M629.5 2379h0M572.5 2378h0M593 2379.5h0M616 2375h0M660.5 2368.5h0M616.5 2372h0M595 2377.5h0M632 2379h0M676 2368h0M620 2376h0M636 2368.5h0M621.5 2369h0M659.5 2371h0M641.5 2369h0M612.5 2376h0M651.5 2373h0M622.5 2368h0M676 2368h0M647.5 2371.5h0M578 2380.5h0M600.5 2370h0M598 2368.5h0M630 2372h0M593 2376h0M575 2380h0M632 2368h0M656 2369.5h0M614.5 2369h0M570.5 2379h0M657 2370h0M573.5 2375.5h0M666.5 2369.5h0M599 2377h0M618 2368.5h0M588 2380.5h0M639 2374.5h0M629 2375.5h0M645 2368.5h0M628.5 2368h0M600 2375h0M592.5 2372h0M644.5 2373h0M609 2381h0M625 2369.5h0M619.5 2369.5h0M623.5 2380h0M601.5 2374.5h0M694.5 2363h0M620.5 2361.5h0M309.5 2344h0M365.5 2368h0M724 2338.5h0M657 2350.5h0"/>
<line x1="131.9" y1="1929.5" x2="131.9" y2="2387" stroke="#000" stroke-width="2.3"/>
<line x1="130.8" y1="2385.8" x2="815.4" y2="2385.8" stroke="#000" stroke-width="2.3"/>
<line x1="124.4" y1="2385.8" x2="131.9" y2="2385.8" stroke="#000" stroke-width="2.3"/>
<text font-size="30.3" text-anchor="end" stroke="#000" stroke-width="0.5" transform="translate(121.3 2395.9) scale(0.95 1)">0</text>
<line x1="124.4" y1="2310" x2="131.9" y2="2310" stroke="#000" stroke-width="2.3"/>
<text font-size="30.3" text-anchor="end" stroke="#000" stroke-width="0.5" transform="translate(121.3 2320.1) scale(0.95 1)">40</text>
<line x1="124.4" y1="2234.1" x2="131.9" y2="2234.1" stroke="#000" stroke-width="2.3"/>
<text font-size="30.3" text-anchor="end" stroke="#000" stroke-width="0.5" transform="translate(121.3 2244.2) scale(0.95 1)">80</text>
<line x1="124.4" y1="2158.2" x2="131.9" y2="2158.2" stroke="#000" stroke-width="2.3"/>
<text font-size="30.3" text-anchor="end" stroke="#000" stroke-width="0.5" transform="translate(121.3 2168.4) scale(0.95 1)">120</text>
<line x1="124.4" y1="2082.4" x2="131.9" y2="2082.4" stroke="#000" stroke-width="2.3"/>
<text font-size="30.3" text-anchor="end" stroke="#000" stroke-width="0.5" transform="translate(121.3 2092.5) scale(0.95 1)">160</text>
<line x1="124.4" y1="2006.6" x2="131.9" y2="2006.6" stroke="#000" stroke-width="2.3"/>
<text font-size="30.3" text-anchor="end" stroke="#000" stroke-width="0.5" transform="translate(121.3 2016.7) scale(0.95 1)">200</text>
<line x1="124.4" y1="1930.7" x2="131.9" y2="1930.7" stroke="#000" stroke-width="2.3"/>
<text font-size="30.3" text-anchor="end" stroke="#000" stroke-width="0.5" transform="translate(121.3 1940.8) scale(0.95 1)">240</text>
<line x1="278" y1="2385.8" x2="278" y2="2393.3" stroke="#000" stroke-width="2.3"/>
<text font-size="30.3" text-anchor="middle" stroke="#000" stroke-width="0.5" transform="translate(278 2421) scale(0.95 1)">-5</text>
<line x1="521.7" y1="2385.8" x2="521.7" y2="2393.3" stroke="#000" stroke-width="2.3"/>
<text font-size="30.3" text-anchor="middle" stroke="#000" stroke-width="0.5" transform="translate(521.7 2421) scale(0.95 1)">0</text>
<line x1="765.5" y1="2385.8" x2="765.5" y2="2393.3" stroke="#000" stroke-width="2.3"/>
<text font-size="30.3" text-anchor="middle" stroke="#000" stroke-width="0.5" transform="translate(765.5 2421) scale(0.95 1)">5</text>
<line x1="131.7" y1="2385.8" x2="131.7" y2="2390.3" stroke="#000" stroke-width="2.3"/>
<line x1="180.5" y1="2385.8" x2="180.5" y2="2390.3" stroke="#000" stroke-width="2.3"/>
<line x1="229.2" y1="2385.8" x2="229.2" y2="2390.3" stroke="#000" stroke-width="2.3"/>
<line x1="326.7" y1="2385.8" x2="326.7" y2="2390.3" stroke="#000" stroke-width="2.3"/>
<line x1="375.5" y1="2385.8" x2="375.5" y2="2390.3" stroke="#000" stroke-width="2.3"/>
<line x1="424.2" y1="2385.8" x2="424.2" y2="2390.3" stroke="#000" stroke-width="2.3"/>
<line x1="473" y1="2385.8" x2="473" y2="2390.3" stroke="#000" stroke-width="2.3"/>
<line x1="570.5" y1="2385.8" x2="570.5" y2="2390.3" stroke="#000" stroke-width="2.3"/>
<line x1="619.2" y1="2385.8" x2="619.2" y2="2390.3" stroke="#000" stroke-width="2.3"/>
<line x1="668" y1="2385.8" x2="668" y2="2390.3" stroke="#000" stroke-width="2.3"/>
<line x1="716.7" y1="2385.8" x2="716.7" y2="2390.3" stroke="#000" stroke-width="2.3"/>
<line x1="814.2" y1="2385.8" x2="814.2" y2="2390.3" stroke="#000" stroke-width="2.3"/>
<text x="491" y="1924" font-size="37.4" text-anchor="middle" stroke="#000" stroke-width="0.5">D7 Hard vs Soft</text>
<text x="473.4" y="2462.8" font-size="29.9" text-anchor="middle" stroke="#000" stroke-width="0.5">Log2FoldChange</text>
<text font-size="30.8" text-anchor="middle" stroke="#000" stroke-width="0.5" transform="translate(37.8 2144) rotate(-90) scale(0.95 1)">-Log10 padj</text>
<text x="26" y="1917" font-size="57" font-weight="bold" fill="#231f20">d</text>
</g>
<g>
<line x1="912.6" y1="67" x2="912.6" y2="511.4" stroke="#000" stroke-width="2.6"/>
<line x1="911.3" y1="510.1" x2="1576.8" y2="510.1" stroke="#000" stroke-width="2.6"/>
<line x1="905.1" y1="510.1" x2="912.6" y2="510.1" stroke="#000" stroke-width="2.6"/>
<text font-size="30.2" text-anchor="end" stroke="#000" stroke-width="0.5" transform="translate(902.9 519.5) scale(0.95 1)">0</text>
<line x1="905.1" y1="362.8" x2="912.6" y2="362.8" stroke="#000" stroke-width="2.6"/>
<text font-size="30.2" text-anchor="end" stroke="#000" stroke-width="0.5" transform="translate(902.9 372.2) scale(0.95 1)">5</text>
<line x1="905.1" y1="215.6" x2="912.6" y2="215.6" stroke="#000" stroke-width="2.6"/>
<text font-size="30.2" text-anchor="end" stroke="#000" stroke-width="0.5" transform="translate(902.9 225) scale(0.95 1)">10</text>
<line x1="905.1" y1="68.3" x2="912.6" y2="68.3" stroke="#000" stroke-width="2.6"/>
<text font-size="30.2" text-anchor="end" stroke="#000" stroke-width="0.5" transform="translate(902.9 77.7) scale(0.95 1)">15</text>
<line x1="912.6" y1="510.1" x2="912.6" y2="517.1" stroke="#000" stroke-width="2.6"/>
<text font-size="30.2" text-anchor="middle" stroke="#000" stroke-width="0.5" transform="translate(912.6 546) scale(0.95 1)">0</text>
<line x1="1078.3" y1="510.1" x2="1078.3" y2="517.1" stroke="#000" stroke-width="2.6"/>
<text font-size="30.2" text-anchor="middle" stroke="#000" stroke-width="0.5" transform="translate(1078.3 546) scale(0.95 1)">1</text>
<line x1="1244" y1="510.1" x2="1244" y2="517.1" stroke="#000" stroke-width="2.6"/>
<text font-size="30.2" text-anchor="middle" stroke="#000" stroke-width="0.5" transform="translate(1244 546) scale(0.95 1)">2</text>
<line x1="1409.8" y1="510.1" x2="1409.8" y2="517.1" stroke="#000" stroke-width="2.6"/>
<text font-size="30.2" text-anchor="middle" stroke="#000" stroke-width="0.5" transform="translate(1409.8 546) scale(0.95 1)">3</text>
<line x1="1575.5" y1="510.1" x2="1575.5" y2="517.1" stroke="#000" stroke-width="2.6"/>
<text font-size="30.2" text-anchor="middle" stroke="#000" stroke-width="0.5" transform="translate(1575.5 546) scale(0.95 1)">4</text>
<text x="1245" y="65" font-size="38" text-anchor="middle" stroke="#000" stroke-width="0.5">UD</text>
<text x="1248.6" y="585.5" font-size="29.2" text-anchor="middle" stroke="#000" stroke-width="0.5">Log2 enrichment ratio</text>
<text font-size="30.2" text-anchor="middle" stroke="#000" stroke-width="0.5" transform="translate(839.1 270.2) rotate(-90) scale(0.97 1)">-Log 10 FDR</text>
<text x="794" y="51.5" font-size="56" font-weight="bold" fill="#231f20">e</text>
<circle cx="1300.5" cy="143.8" r="7.3" fill="#000080" stroke="#000" stroke-width="2"/>
<circle cx="1254.8" cy="243.2" r="7.3" fill="#0000ff" stroke="#000" stroke-width="2"/>
<circle cx="1139.1" cy="274.9" r="7.3" fill="#000080" stroke="#000" stroke-width="2"/>
<circle cx="1187.4" cy="316" r="7.3" fill="#0000ff" stroke="#000" stroke-width="2"/>
<circle cx="1329.9" cy="296.6" r="7.3" fill="#6666ff" stroke="#000" stroke-width="2"/>
<circle cx="1342.1" cy="296.6" r="7.3" fill="#6666ff" stroke="#000" stroke-width="2"/>
<circle cx="1402.7" cy="322.4" r="7.3" fill="#6666ff" stroke="#000" stroke-width="2"/>
<circle cx="1447.4" cy="328.2" r="7.3" fill="#6666ff" stroke="#000" stroke-width="2"/>
<text x="1368.8" y="121.6" font-size="25.1" text-anchor="middle" stroke="#000" stroke-width="0.5">ECM</text>
<text x="1374" y="143.8" font-size="25.1" text-anchor="middle" stroke="#000" stroke-width="0.5">structural</text>
<text x="1374.9" y="164.6" font-size="25.1" text-anchor="middle" stroke="#000" stroke-width="0.5">consituent</text>
<text x="1318.6" y="212.5" font-size="25.1" text-anchor="middle" stroke="#000" stroke-width="0.5">Growth Factor</text>
<text x="1309.3" y="235.1" font-size="25.1" text-anchor="middle" stroke="#000" stroke-width="0.5">Binding</text>
<text x="1058.3" y="270.8" font-size="25.1" text-anchor="middle" stroke="#000" stroke-width="0.5">Actin binding</text>
<text x="1271.8" y="292.1" font-size="25.1" text-anchor="middle" stroke="#000" stroke-width="0.5">Collagen</text>
<text x="1269.7" y="312.9" font-size="25.1" text-anchor="middle" stroke="#000" stroke-width="0.5">binding</text>
<text x="1388.6" y="274.4" font-size="25.1" text-anchor="middle" stroke="#000" stroke-width="0.5">ECM</text>
<text x="1392" y="297" font-size="25.1" text-anchor="middle" stroke="#000" stroke-width="0.5">binding</text>
<text x="1089.5" y="345" font-size="25.1" text-anchor="middle" stroke="#000" stroke-width="0.5">Glycosaminoglycan</text>
<text x="1074.4" y="366.7" font-size="25.1" text-anchor="middle" stroke="#000" stroke-width="0.5">binding</text>
<text x="1346.4" y="352.7" font-size="25.1" text-anchor="middle" stroke="#000" stroke-width="0.5">Fibronectin</text>
<text x="1341.6" y="375.3" font-size="25.1" text-anchor="middle" stroke="#000" stroke-width="0.5">binding</text>
<text x="1519.5" y="323.3" font-size="25.1" text-anchor="middle" stroke="#000" stroke-width="0.5">Structural</text>
<text x="1521.4" y="346.8" font-size="25.1" text-anchor="middle" stroke="#000" stroke-width="0.5">constituent</text>
<text x="1519.8" y="368.5" font-size="25.1" text-anchor="middle" stroke="#000" stroke-width="0.5">of muscle</text>
</g>
<g>
<line x1="924.8" y1="661.1" x2="924.8" y2="1098.3" stroke="#000" stroke-width="3.1"/>
<line x1="923.2" y1="1096.8" x2="1577.5" y2="1096.8" stroke="#000" stroke-width="3.1"/>
<line x1="917.3" y1="1096.8" x2="924.8" y2="1096.8" stroke="#000" stroke-width="3.1"/>
<text font-size="30.6" text-anchor="end" stroke="#000" stroke-width="0.5" transform="translate(915.5 1106.8) scale(0.95 1)">0</text>
<line x1="917.3" y1="952.1" x2="924.8" y2="952.1" stroke="#000" stroke-width="3.1"/>
<text font-size="30.6" text-anchor="end" stroke="#000" stroke-width="0.5" transform="translate(915.5 962) scale(0.95 1)">5</text>
<line x1="917.3" y1="807.4" x2="924.8" y2="807.4" stroke="#000" stroke-width="3.1"/>
<text font-size="30.6" text-anchor="end" stroke="#000" stroke-width="0.5" transform="translate(915.5 817.3) scale(0.95 1)">10</text>
<line x1="917.3" y1="662.7" x2="924.8" y2="662.7" stroke="#000" stroke-width="3.1"/>
<text font-size="30.6" text-anchor="end" stroke="#000" stroke-width="0.5" transform="translate(915.5 672.6) scale(0.95 1)">15</text>
<line x1="924.8" y1="1096.8" x2="924.8" y2="1104.8" stroke="#000" stroke-width="3.1"/>
<text font-size="30.6" text-anchor="middle" stroke="#000" stroke-width="0.5" transform="translate(924.8 1133) scale(0.95 1)">0</text>
<line x1="1087.6" y1="1096.8" x2="1087.6" y2="1104.8" stroke="#000" stroke-width="3.1"/>
<text font-size="30.6" text-anchor="middle" stroke="#000" stroke-width="0.5" transform="translate(1087.6 1133) scale(0.95 1)">1</text>
<line x1="1250.4" y1="1096.8" x2="1250.4" y2="1104.8" stroke="#000" stroke-width="3.1"/>
<text font-size="30.6" text-anchor="middle" stroke="#000" stroke-width="0.5" transform="translate(1250.4 1133) scale(0.95 1)">2</text>
<line x1="1413.2" y1="1096.8" x2="1413.2" y2="1104.8" stroke="#000" stroke-width="3.1"/>
<text font-size="30.6" text-anchor="middle" stroke="#000" stroke-width="0.5" transform="translate(1413.2 1133) scale(0.95 1)">3</text>
<line x1="1576" y1="1096.8" x2="1576" y2="1104.8" stroke="#000" stroke-width="3.1"/>
<text font-size="30.6" text-anchor="middle" stroke="#000" stroke-width="0.5" transform="translate(1576 1133) scale(0.95 1)">4</text>
<text x="1245" y="652.5" font-size="35.8" text-anchor="middle" stroke="#000" stroke-width="0.5">D1</text>
<text x="1250.5" y="1171" font-size="29.2" text-anchor="middle" stroke="#000" stroke-width="0.5">Log2 enrichment ratio</text>
<text font-size="30.2" text-anchor="middle" stroke="#000" stroke-width="0.5" transform="translate(853.3 864.4) rotate(-90) scale(0.97 1)">-Log10 FDR</text>
<text x="820" y="658.5" font-size="57" font-weight="bold" fill="#231f20">f</text>
<circle cx="1303.3" cy="720.5" r="7.3" fill="#4b0f8c" stroke="#000" stroke-width="2"/>
<circle cx="1303.3" cy="746.3" r="7.3" fill="#4b0f8c" stroke="#000" stroke-width="2"/>
<circle cx="1194.8" cy="775.6" r="7.3" fill="#000080" stroke="#000" stroke-width="2"/>
<circle cx="1111.2" cy="823.1" r="7.3" fill="#4b0f8c" stroke="#000" stroke-width="2"/>
<circle cx="1153.7" cy="823.1" r="7.3" fill="#000080" stroke="#000" stroke-width="2"/>
<circle cx="1252.2" cy="853.9" r="7.3" fill="#1e90ff" stroke="#000" stroke-width="2"/>
<circle cx="1126.5" cy="872.4" r="7.3" fill="#000080" stroke="#000" stroke-width="2"/>
<circle cx="1094.9" cy="899.1" r="7.3" fill="#4b0f8c" stroke="#000" stroke-width="2"/>
<text x="1388.3" y="692.9" font-size="25.1" text-anchor="middle" stroke="#000" stroke-width="0.5">ECM structural</text>
<text x="1382.9" y="713.7" font-size="25.1" text-anchor="middle" stroke="#000" stroke-width="0.5">constituent</text>
<text x="1396.2" y="753" font-size="25.1" text-anchor="middle" stroke="#000" stroke-width="0.5">ECM binding</text>
<text x="1136.3" y="740.4" font-size="25.1" text-anchor="middle" stroke="#000" stroke-width="0.5">Growth factor</text>
<text x="1163.8" y="760.3" font-size="25.1" text-anchor="middle" stroke="#000" stroke-width="0.5">binding</text>
<text x="1043.1" y="797.4" font-size="25.1" text-anchor="middle" stroke="#000" stroke-width="0.5">Active membrane</text>
<text x="1035" y="822.2" font-size="25.1" text-anchor="middle" stroke="#000" stroke-width="0.5">transporter</text>
<text x="1039" y="847.1" font-size="25.1" text-anchor="middle" stroke="#000" stroke-width="0.5">activity</text>
<text x="1334.8" y="829" font-size="25.1" text-anchor="middle" stroke="#000" stroke-width="0.5">Glycosoaminoglycan binding</text>
<text x="1361.9" y="861.6" font-size="25.1" text-anchor="middle" stroke="#000" stroke-width="0.5">Collagen binding</text>
<text x="1208.4" y="898.6" font-size="25.1" text-anchor="middle" stroke="#000" stroke-width="0.5">Cell Adhesion</text>
<text x="1383.1" y="896.8" font-size="25.1" text-anchor="middle" stroke="#000" stroke-width="0.5">Molecule binding</text>
<text x="1025.7" y="928.5" font-size="25.1" text-anchor="middle" stroke="#000" stroke-width="0.5">Anion membrane</text>
<text x="1034.1" y="949.7" font-size="25.1" text-anchor="middle" stroke="#000" stroke-width="0.5">transporter activity</text>
</g>
<g>
<line x1="934.9" y1="1320.5" x2="934.9" y2="1756.6" stroke="#000" stroke-width="2.7"/>
<line x1="933.5" y1="1755.3" x2="1585.8" y2="1755.3" stroke="#000" stroke-width="2.7"/>
<line x1="934.9" y1="1755" x2="1584.5" y2="1755" stroke="#000" stroke-width="3.3" stroke-dasharray="1.6 1.6"/>
<line x1="927.4" y1="1755.3" x2="934.9" y2="1755.3" stroke="#000" stroke-width="2.7"/>
<text font-size="30.4" text-anchor="end" stroke="#000" stroke-width="0.5" transform="translate(925.9 1765.1) scale(0.95 1)">0</text>
<line x1="927.4" y1="1610.8" x2="934.9" y2="1610.8" stroke="#000" stroke-width="2.7"/>
<text font-size="30.4" text-anchor="end" stroke="#000" stroke-width="0.5" transform="translate(925.9 1620.6) scale(0.95 1)">5</text>
<line x1="927.4" y1="1466.3" x2="934.9" y2="1466.3" stroke="#000" stroke-width="2.7"/>
<text font-size="30.4" text-anchor="end" stroke="#000" stroke-width="0.5" transform="translate(925.9 1476.1) scale(0.95 1)">10</text>
<line x1="927.4" y1="1321.8" x2="934.9" y2="1321.8" stroke="#000" stroke-width="2.7"/>
<text font-size="30.4" text-anchor="end" stroke="#000" stroke-width="0.5" transform="translate(925.9 1331.6) scale(0.95 1)">15</text>
<line x1="934.9" y1="1755.3" x2="934.9" y2="1763.3" stroke="#000" stroke-width="2.7"/>
<text font-size="30.4" text-anchor="middle" stroke="#000" stroke-width="0.5" transform="translate(934.9 1792) scale(0.95 1)">0</text>
<line x1="1097.3" y1="1755.3" x2="1097.3" y2="1763.3" stroke="#000" stroke-width="2.7"/>
<text font-size="30.4" text-anchor="middle" stroke="#000" stroke-width="0.5" transform="translate(1097.3 1792) scale(0.95 1)">1</text>
<line x1="1259.7" y1="1755.3" x2="1259.7" y2="1763.3" stroke="#000" stroke-width="2.7"/>
<text font-size="30.4" text-anchor="middle" stroke="#000" stroke-width="0.5" transform="translate(1259.7 1792) scale(0.95 1)">2</text>
<line x1="1422.1" y1="1755.3" x2="1422.1" y2="1763.3" stroke="#000" stroke-width="2.7"/>
<text font-size="30.4" text-anchor="middle" stroke="#000" stroke-width="0.5" transform="translate(1422.1 1792) scale(0.95 1)">3</text>
<line x1="1584.5" y1="1755.3" x2="1584.5" y2="1763.3" stroke="#000" stroke-width="2.7"/>
<text font-size="30.4" text-anchor="middle" stroke="#000" stroke-width="0.5" transform="translate(1584.5 1792) scale(0.95 1)">4</text>
<text x="1256" y="1331" font-size="38" text-anchor="middle" stroke="#000" stroke-width="0.5">D3</text>
<text x="1260.4" y="1830.6" font-size="29.5" text-anchor="middle" stroke="#000" stroke-width="0.5">Log2 enrichment ratio</text>
<text font-size="29.8" text-anchor="middle" stroke="#000" stroke-width="0.5" transform="translate(856.8 1519) rotate(-90)">-Log10 FDR</text>
<text x="832" y="1240.5" font-size="57" font-weight="bold" fill="#231f20">g</text>
<line x1="1335.3" y1="1648.1" x2="1365.6" y2="1627.8" stroke="#000" stroke-width="2.6"/>
<line x1="1151.3" y1="1680.2" x2="1191.5" y2="1674.8" stroke="#000" stroke-width="2.6"/>
<line x1="1262" y1="1674.8" x2="1245.8" y2="1693.8" stroke="#000" stroke-width="2.6"/>
<circle cx="1402.2" cy="1441" r="7.3" fill="#5bc4f5" stroke="#000" stroke-width="2"/>
<circle cx="1357.9" cy="1512" r="7.3" fill="#5bc4f5" stroke="#000" stroke-width="2"/>
<circle cx="1268.8" cy="1615.1" r="7.3" fill="#5bc4f5" stroke="#000" stroke-width="2"/>
<circle cx="1327.2" cy="1657.2" r="7.3" fill="#5bc4f5" stroke="#000" stroke-width="2"/>
<circle cx="1270.2" cy="1664.9" r="7.3" fill="#5bc4f5" stroke="#000" stroke-width="2"/>
<circle cx="1203.7" cy="1672.1" r="7.3" fill="#5bc4f5" stroke="#000" stroke-width="2"/>
<circle cx="1357.9" cy="1675.7" r="7.3" fill="#fff" stroke="#000" stroke-width="2"/>
<circle cx="1332.1" cy="1683.4" r="7.3" fill="#fff" stroke="#000" stroke-width="2"/>
<text x="1475.5" y="1418.4" font-size="25.1" text-anchor="middle" stroke="#000" stroke-width="0.5">ECM</text>
<text x="1480.7" y="1441.5" font-size="25.1" text-anchor="middle" stroke="#000" stroke-width="0.5">structural</text>
<text x="1483.2" y="1464.6" font-size="25.1" text-anchor="middle" stroke="#000" stroke-width="0.5">consistuent</text>
<text x="1448.3" y="1508" font-size="25.1" text-anchor="middle" stroke="#000" stroke-width="0.5">Growth factor</text>
<text x="1440.6" y="1531.5" font-size="25.1" text-anchor="middle" stroke="#000" stroke-width="0.5">binding</text>
<text x="1229.3" y="1586.6" font-size="25.1" text-anchor="middle" stroke="#000" stroke-width="0.5">Metallopeptidase</text>
<text x="1217.3" y="1609.7" font-size="25.1" text-anchor="middle" stroke="#000" stroke-width="0.5">activity</text>
<text x="1432.3" y="1616.5" font-size="25.1" text-anchor="middle" stroke="#000" stroke-width="0.5">Cargo receptor</text>
<text x="1422.6" y="1640.4" font-size="25.1" text-anchor="middle" stroke="#000" stroke-width="0.5">activity</text>
<text x="1082.8" y="1674.4" font-size="25.1" text-anchor="middle" stroke="#000" stroke-width="0.5">Cell adhesion</text>
<text x="1077.1" y="1697.9" font-size="25.1" text-anchor="middle" stroke="#000" stroke-width="0.5">molecule</text>
<text x="1075.1" y="1721.8" font-size="25.1" text-anchor="middle" stroke="#000" stroke-width="0.5">binding</text>
<text x="1258" y="1713.7" font-size="25.1" text-anchor="middle" stroke="#000" stroke-width="0.5">Cytokine</text>
<text x="1255.9" y="1737.2" font-size="25.1" text-anchor="middle" stroke="#000" stroke-width="0.5">binding</text>
<text x="1452.4" y="1682" font-size="25.1" text-anchor="middle" stroke="#000" stroke-width="0.5">ECM binding</text>
<text x="1389.1" y="1718.2" font-size="25.1" text-anchor="middle" stroke="#000" stroke-width="0.5">Collagen</text>
<text x="1387.1" y="1740.8" font-size="25.1" text-anchor="middle" stroke="#000" stroke-width="0.5">binding</text>
</g>
<g>
<line x1="944.4" y1="1946.4" x2="944.4" y2="2387.2" stroke="#000" stroke-width="2.7"/>
<line x1="943" y1="2385.8" x2="1601.8" y2="2385.8" stroke="#000" stroke-width="2.7"/>
<line x1="936.9" y1="2385.8" x2="944.4" y2="2385.8" stroke="#000" stroke-width="2.7"/>
<text font-size="30.6" text-anchor="end" stroke="#000" stroke-width="0.5" transform="translate(933.6 2395.4) scale(0.95 1)">0</text>
<line x1="936.9" y1="2239.8" x2="944.4" y2="2239.8" stroke="#000" stroke-width="2.7"/>
<text font-size="30.6" text-anchor="end" stroke="#000" stroke-width="0.5" transform="translate(933.6 2249.3) scale(0.95 1)">5</text>
<line x1="936.9" y1="2093.7" x2="944.4" y2="2093.7" stroke="#000" stroke-width="2.7"/>
<text font-size="30.6" text-anchor="end" stroke="#000" stroke-width="0.5" transform="translate(933.6 2103.3) scale(0.95 1)">10</text>
<line x1="936.9" y1="1947.7" x2="944.4" y2="1947.7" stroke="#000" stroke-width="2.7"/>
<text font-size="30.6" text-anchor="end" stroke="#000" stroke-width="0.5" transform="translate(933.6 1957.3) scale(0.95 1)">15</text>
<line x1="944.4" y1="2385.8" x2="944.4" y2="2393.5" stroke="#000" stroke-width="2.7"/>
<text font-size="30.6" text-anchor="middle" stroke="#000" stroke-width="0.5" transform="translate(944.4 2423.2) scale(0.95 1)">0</text>
<line x1="1108.4" y1="2385.8" x2="1108.4" y2="2393.5" stroke="#000" stroke-width="2.7"/>
<text font-size="30.6" text-anchor="middle" stroke="#000" stroke-width="0.5" transform="translate(1108.4 2423.2) scale(0.95 1)">1</text>
<line x1="1272.4" y1="2385.8" x2="1272.4" y2="2393.5" stroke="#000" stroke-width="2.7"/>
<text font-size="30.6" text-anchor="middle" stroke="#000" stroke-width="0.5" transform="translate(1272.4 2423.2) scale(0.95 1)">2</text>
<line x1="1436.4" y1="2385.8" x2="1436.4" y2="2393.5" stroke="#000" stroke-width="2.7"/>
<text font-size="30.6" text-anchor="middle" stroke="#000" stroke-width="0.5" transform="translate(1436.4 2423.2) scale(0.95 1)">3</text>
<line x1="1600.4" y1="2385.8" x2="1600.4" y2="2393.5" stroke="#000" stroke-width="2.7"/>
<text font-size="30.6" text-anchor="middle" stroke="#000" stroke-width="0.5" transform="translate(1600.4 2423.2) scale(0.95 1)">4</text>
<text x="1274" y="1961" font-size="38" text-anchor="middle" stroke="#000" stroke-width="0.5">D7</text>
<text x="1272.7" y="2462.6" font-size="30.8" text-anchor="middle" stroke="#000" stroke-width="0.5">Log2 enrichment ratio</text>
<text font-size="30.6" text-anchor="middle" stroke="#000" stroke-width="0.5" transform="translate(869.4 2151.1) rotate(-90)">-Log10 FDR</text>
<text x="842" y="1917" font-size="57" font-weight="bold" fill="#231f20">h</text>
<circle cx="1471.9" cy="2000.2" r="7.3" fill="#5bc4f5" stroke="#000" stroke-width="2"/>
<circle cx="1313.6" cy="2283" r="7.3" fill="#5bc4f5" stroke="#000" stroke-width="2"/>
<circle cx="1264.5" cy="2295.8" r="7.3" fill="#5bc4f5" stroke="#000" stroke-width="2"/>
<circle cx="1454.8" cy="2251.9" r="7.3" fill="#fff" stroke="#000" stroke-width="2"/>
<circle cx="1427.1" cy="2290.7" r="7.3" fill="#fff" stroke="#000" stroke-width="2"/>
<circle cx="1251.7" cy="2342.8" r="7.3" fill="#fff" stroke="#000" stroke-width="2"/>
<circle cx="1289.3" cy="2347" r="7.3" fill="#fff" stroke="#000" stroke-width="2"/>
<text x="1542.5" y="1982.7" font-size="25.1" text-anchor="middle" stroke="#000" stroke-width="0.5">ECM</text>
<text x="1545.7" y="2006.6" font-size="25.1" text-anchor="middle" stroke="#000" stroke-width="0.5">structural</text>
<text x="1548.5" y="2030.5" font-size="25.1" text-anchor="middle" stroke="#000" stroke-width="0.5">consistuent</text>
<text x="1344.7" y="2238.7" font-size="25.1" text-anchor="middle" stroke="#000" stroke-width="0.5">Growth factor</text>
<text x="1345.8" y="2260" font-size="25.1" text-anchor="middle" stroke="#000" stroke-width="0.5">binding</text>
<text x="1515.2" y="2238.7" font-size="25.1" text-anchor="middle" stroke="#000" stroke-width="0.5">Collagen</text>
<text x="1513.3" y="2262.1" font-size="25.1" text-anchor="middle" stroke="#000" stroke-width="0.5">binding</text>
<text x="1168.1" y="2277.9" font-size="25.1" text-anchor="middle" stroke="#000" stroke-width="0.5">Metallopeptidase</text>
<text x="1158.1" y="2301" font-size="25.1" text-anchor="middle" stroke="#000" stroke-width="0.5">activity</text>
<text x="1516.5" y="2301" font-size="25.1" text-anchor="middle" stroke="#000" stroke-width="0.5">ECM binding</text>
<text x="1189.9" y="2344.5" font-size="25.1" text-anchor="middle" stroke="#000" stroke-width="0.5">Cytokine</text>
<text x="1189" y="2367.5" font-size="25.1" text-anchor="middle" stroke="#000" stroke-width="0.5">binding</text>
<text x="1393.6" y="2355.1" font-size="25.1" text-anchor="middle" stroke="#000" stroke-width="0.5">Cargo receptor</text>
<text x="1385.3" y="2379.5" font-size="25.1" text-anchor="middle" stroke="#000" stroke-width="0.5">activity</text>
</g>
</svg></body></html>
